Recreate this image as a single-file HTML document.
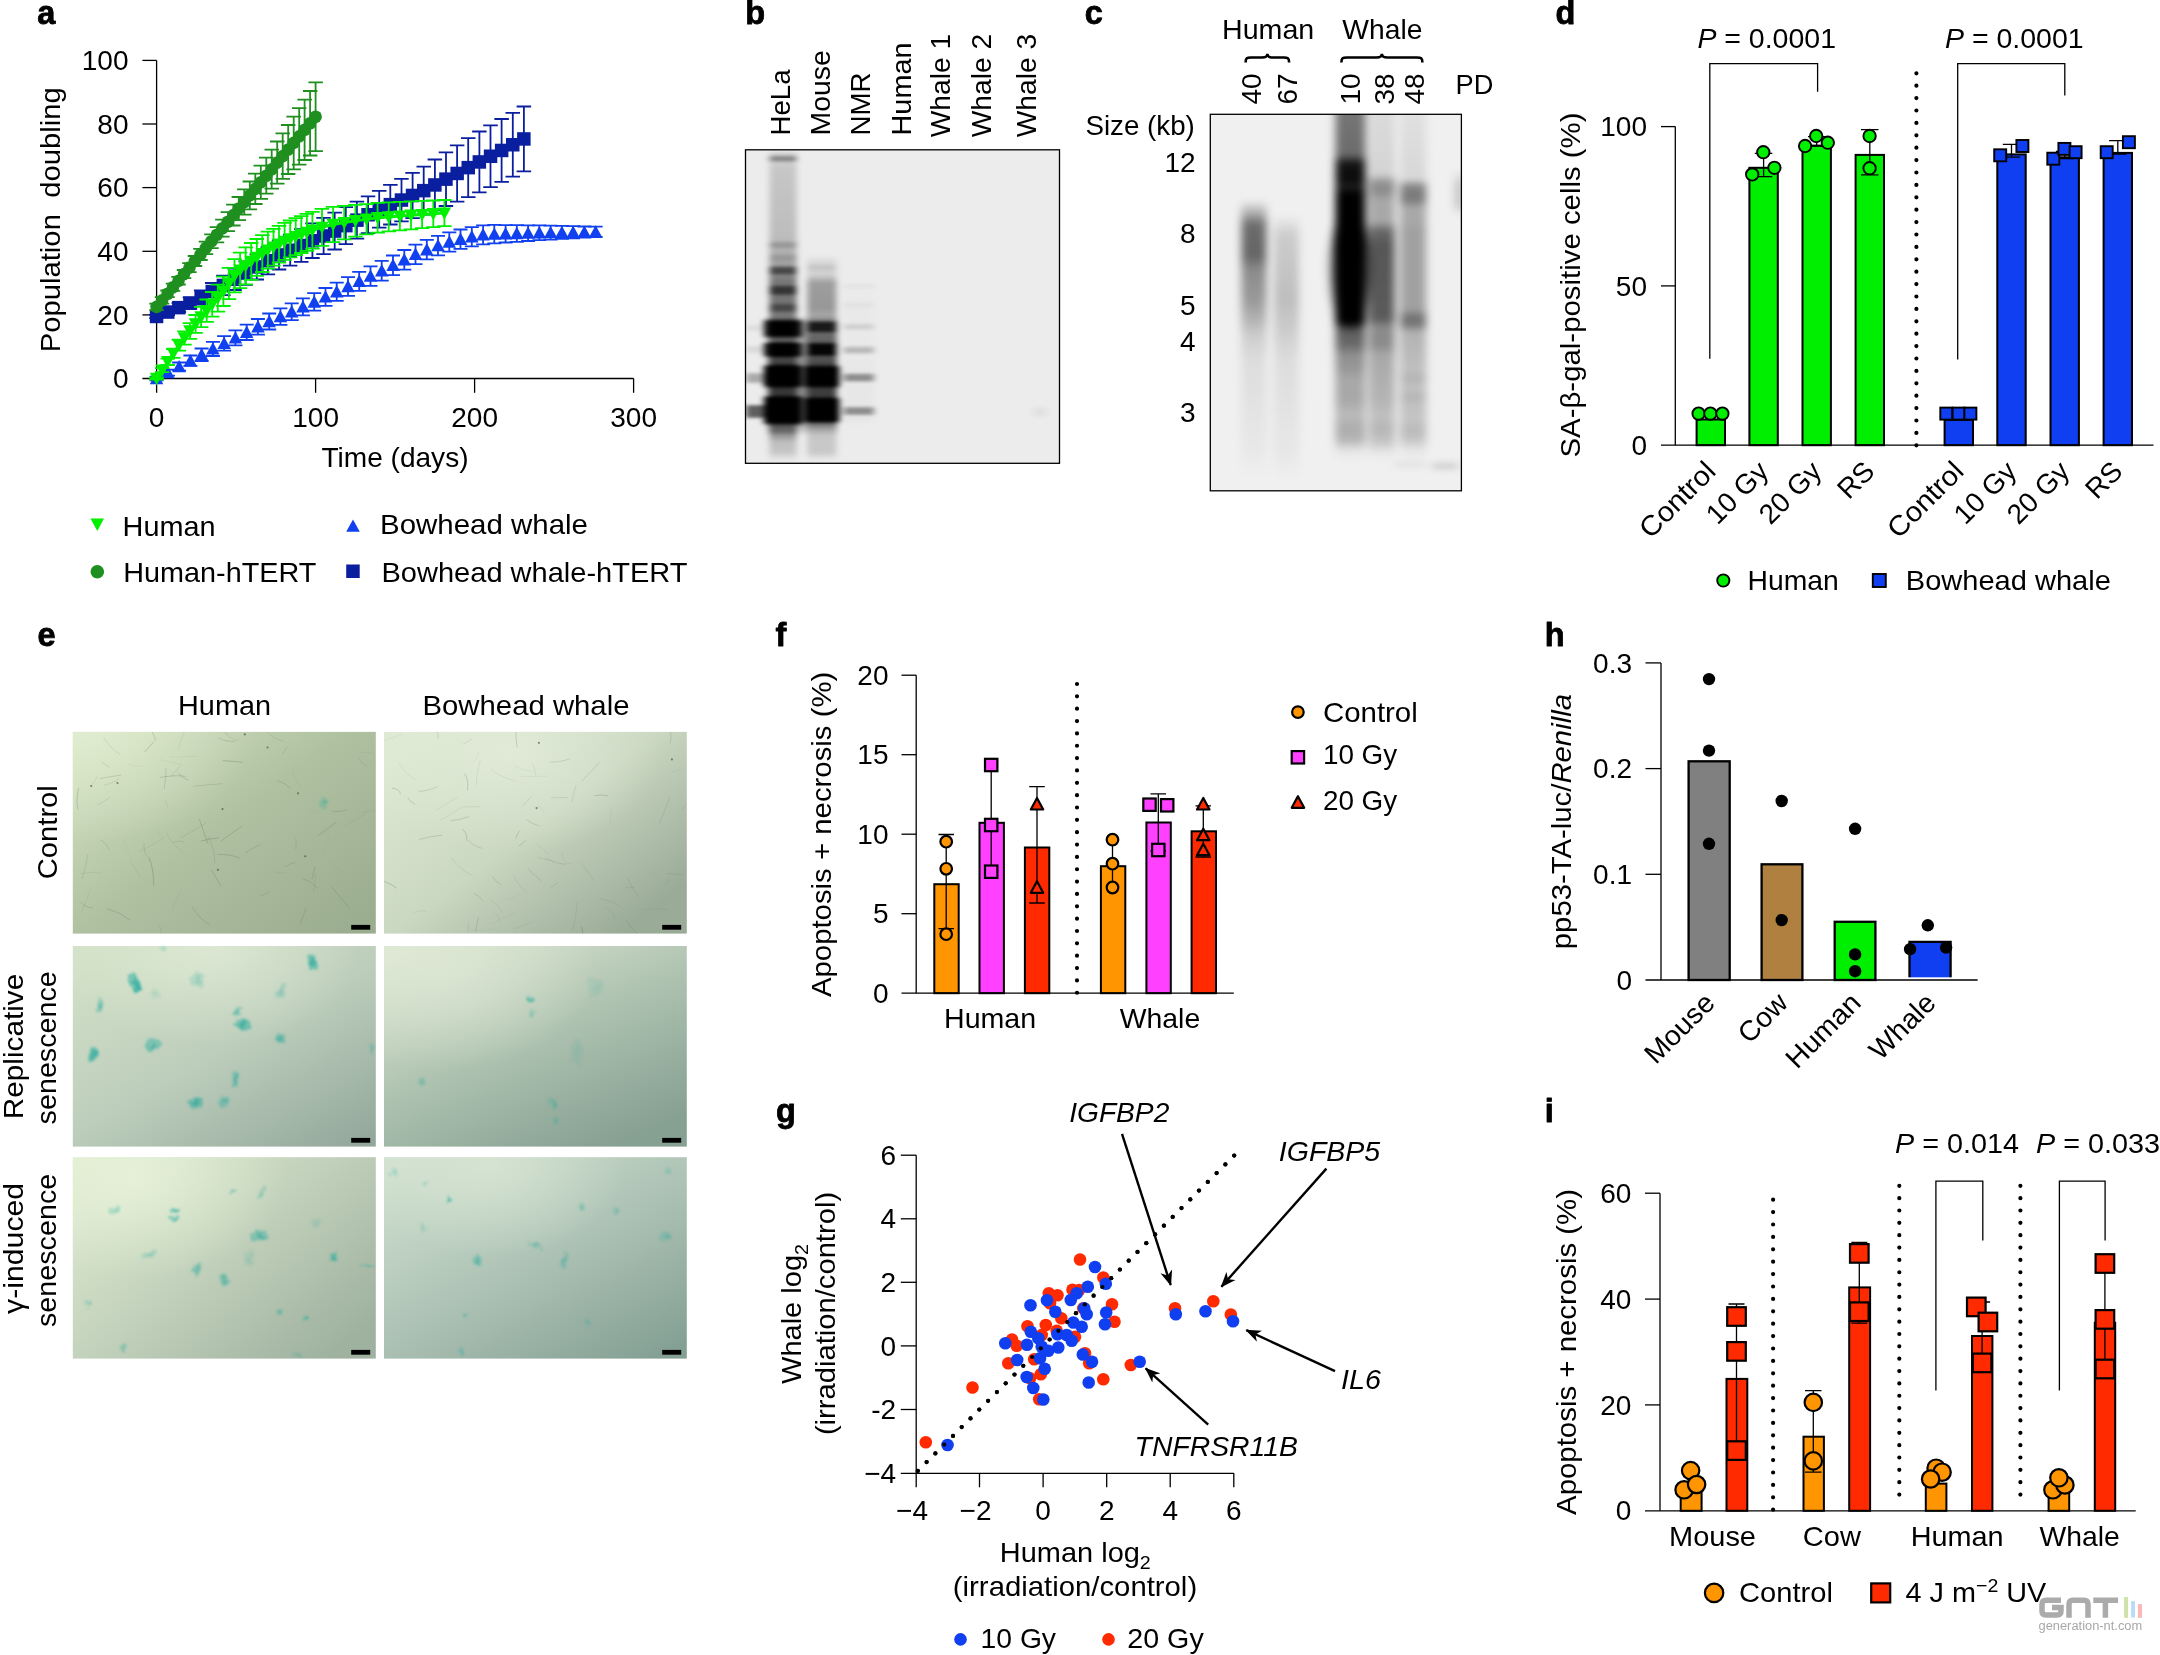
<!DOCTYPE html>
<html><head><meta charset="utf-8"><title>Figure</title>
<style>
html,body{margin:0;padding:0;background:#fff;}
body{width:2160px;height:1655px;overflow:hidden;}
svg{display:block;will-change:transform;font-family:"Liberation Sans",sans-serif;font-size:28px;}
</style></head><body>
<svg width="2160" height="1655" viewBox="0 0 2160 1655">
<defs>
<clipPath id="clipb"><rect x="745.5" y="149.8" width="314.0" height="313.5"/></clipPath>
<filter id="gb" x="-5%" y="-5%" width="110%" height="110%"><feGaussianBlur stdDeviation="3.4 1.8"/></filter>
<filter id="gc" x="-5%" y="-5%" width="110%" height="110%"><feGaussianBlur stdDeviation="4.2 3.6"/></filter>
<filter id="bl3" x="-30%" y="-100%" width="160%" height="300%"><feGaussianBlur stdDeviation="3.5 3"/></filter>
<filter id="bl6" x="-50%" y="-50%" width="200%" height="200%"><feGaussianBlur stdDeviation="6"/></filter>
<linearGradient id="ln1" gradientUnits="userSpaceOnUse" x1="0" y1="150.0" x2="0" y2="463.0"><stop offset="0.0000" stop-color="#000" stop-opacity="0.00"/><stop offset="0.0096" stop-color="#000" stop-opacity="0.10"/><stop offset="0.0150" stop-color="#000" stop-opacity="0.11"/><stop offset="0.0230" stop-color="#000" stop-opacity="0.42"/><stop offset="0.0326" stop-color="#000" stop-opacity="0.42"/><stop offset="0.0406" stop-color="#000" stop-opacity="0.13"/><stop offset="0.0639" stop-color="#000" stop-opacity="0.16"/><stop offset="0.2716" stop-color="#000" stop-opacity="0.20"/><stop offset="0.2907" stop-color="#000" stop-opacity="0.22"/><stop offset="0.2987" stop-color="#000" stop-opacity="0.36"/><stop offset="0.3083" stop-color="#000" stop-opacity="0.36"/><stop offset="0.3163" stop-color="#000" stop-opacity="0.25"/><stop offset="0.3319" stop-color="#000" stop-opacity="0.27"/><stop offset="0.3399" stop-color="#000" stop-opacity="0.36"/><stop offset="0.3495" stop-color="#000" stop-opacity="0.36"/><stop offset="0.3575" stop-color="#000" stop-opacity="0.30"/><stop offset="0.3578" stop-color="#000" stop-opacity="0.30"/><stop offset="0.3693" stop-color="#000" stop-opacity="0.34"/><stop offset="0.3773" stop-color="#000" stop-opacity="0.70"/><stop offset="0.3933" stop-color="#000" stop-opacity="0.70"/><stop offset="0.4013" stop-color="#000" stop-opacity="0.44"/><stop offset="0.4217" stop-color="#000" stop-opacity="0.50"/><stop offset="0.4307" stop-color="#000" stop-opacity="0.50"/><stop offset="0.4387" stop-color="#000" stop-opacity="0.78"/><stop offset="0.4578" stop-color="#000" stop-opacity="0.78"/><stop offset="0.4658" stop-color="#000" stop-opacity="0.51"/><stop offset="0.4885" stop-color="#000" stop-opacity="0.51"/><stop offset="0.4965" stop-color="#000" stop-opacity="0.70"/><stop offset="0.5125" stop-color="#000" stop-opacity="0.70"/><stop offset="0.5176" stop-color="#000" stop-opacity="0.52"/><stop offset="0.5204" stop-color="#000" stop-opacity="0.51"/><stop offset="0.5415" stop-color="#000" stop-opacity="0.45"/><stop offset="0.5431" stop-color="#000" stop-opacity="0.45"/><stop offset="0.5495" stop-color="#000" stop-opacity="1.00"/><stop offset="0.5911" stop-color="#000" stop-opacity="1.00"/><stop offset="0.5990" stop-color="#000" stop-opacity="0.40"/><stop offset="0.6006" stop-color="#000" stop-opacity="0.40"/><stop offset="0.6099" stop-color="#000" stop-opacity="0.41"/><stop offset="0.6134" stop-color="#000" stop-opacity="0.42"/><stop offset="0.6179" stop-color="#000" stop-opacity="1.00"/><stop offset="0.6562" stop-color="#000" stop-opacity="1.00"/><stop offset="0.6642" stop-color="#000" stop-opacity="0.50"/><stop offset="0.6645" stop-color="#000" stop-opacity="0.50"/><stop offset="0.6837" stop-color="#000" stop-opacity="0.55"/><stop offset="0.6917" stop-color="#000" stop-opacity="1.00"/><stop offset="0.7524" stop-color="#000" stop-opacity="1.00"/><stop offset="0.7604" stop-color="#000" stop-opacity="0.60"/><stop offset="0.7827" stop-color="#000" stop-opacity="0.60"/><stop offset="0.7843" stop-color="#000" stop-opacity="0.60"/><stop offset="0.7923" stop-color="#000" stop-opacity="1.00"/><stop offset="0.8690" stop-color="#000" stop-opacity="1.00"/><stop offset="0.8770" stop-color="#000" stop-opacity="0.50"/><stop offset="0.8786" stop-color="#000" stop-opacity="0.50"/><stop offset="0.8802" stop-color="#000" stop-opacity="0.49"/><stop offset="0.8882" stop-color="#000" stop-opacity="0.50"/><stop offset="0.9010" stop-color="#000" stop-opacity="0.50"/><stop offset="0.9089" stop-color="#000" stop-opacity="0.37"/><stop offset="0.9137" stop-color="#000" stop-opacity="0.35"/><stop offset="0.9329" stop-color="#000" stop-opacity="0.20"/><stop offset="0.9649" stop-color="#000" stop-opacity="0.16"/><stop offset="0.9840" stop-color="#000" stop-opacity="0.05"/><stop offset="0.9968" stop-color="#000" stop-opacity="0.00"/></linearGradient>
<linearGradient id="ln2" gradientUnits="userSpaceOnUse" x1="0" y1="316.0" x2="0" y2="436.0"><stop offset="0.0000" stop-color="#000" stop-opacity="0.00"/><stop offset="0.0667" stop-color="#000" stop-opacity="0.30"/><stop offset="0.2417" stop-color="#000" stop-opacity="0.34"/><stop offset="0.3667" stop-color="#000" stop-opacity="0.40"/><stop offset="0.8667" stop-color="#000" stop-opacity="0.45"/><stop offset="0.9333" stop-color="#000" stop-opacity="0.20"/><stop offset="1.0000" stop-color="#000" stop-opacity="0.00"/></linearGradient>
<linearGradient id="ln3" gradientUnits="userSpaceOnUse" x1="0" y1="316.0" x2="0" y2="428.0"><stop offset="0.0179" stop-color="#000" stop-opacity="0.00"/><stop offset="0.0536" stop-color="#000" stop-opacity="0.90"/><stop offset="0.1696" stop-color="#000" stop-opacity="0.90"/><stop offset="0.2054" stop-color="#000" stop-opacity="0.00"/><stop offset="0.2321" stop-color="#000" stop-opacity="0.00"/><stop offset="0.2500" stop-color="#000" stop-opacity="0.90"/><stop offset="0.3482" stop-color="#000" stop-opacity="0.90"/><stop offset="0.3750" stop-color="#000" stop-opacity="0.00"/><stop offset="0.4286" stop-color="#000" stop-opacity="0.00"/><stop offset="0.4554" stop-color="#000" stop-opacity="1.00"/><stop offset="0.6161" stop-color="#000" stop-opacity="1.00"/><stop offset="0.6518" stop-color="#000" stop-opacity="0.00"/><stop offset="0.7054" stop-color="#000" stop-opacity="0.00"/><stop offset="0.7321" stop-color="#000" stop-opacity="1.00"/><stop offset="0.9464" stop-color="#000" stop-opacity="1.00"/><stop offset="0.9821" stop-color="#000" stop-opacity="0.00"/></linearGradient>
<linearGradient id="ln4" gradientUnits="userSpaceOnUse" x1="0" y1="150.0" x2="0" y2="463.0"><stop offset="0.3355" stop-color="#000" stop-opacity="0.00"/><stop offset="0.3578" stop-color="#000" stop-opacity="0.08"/><stop offset="0.3633" stop-color="#000" stop-opacity="0.09"/><stop offset="0.3712" stop-color="#000" stop-opacity="0.16"/><stop offset="0.3808" stop-color="#000" stop-opacity="0.16"/><stop offset="0.3888" stop-color="#000" stop-opacity="0.11"/><stop offset="0.3994" stop-color="#000" stop-opacity="0.12"/><stop offset="0.4249" stop-color="#000" stop-opacity="0.33"/><stop offset="0.5048" stop-color="#000" stop-opacity="0.36"/><stop offset="0.5240" stop-color="#000" stop-opacity="0.30"/><stop offset="0.5441" stop-color="#000" stop-opacity="0.32"/><stop offset="0.5521" stop-color="#000" stop-opacity="0.85"/><stop offset="0.5776" stop-color="#000" stop-opacity="0.85"/><stop offset="0.5856" stop-color="#000" stop-opacity="0.35"/><stop offset="0.5942" stop-color="#000" stop-opacity="0.36"/><stop offset="0.6070" stop-color="#000" stop-opacity="0.36"/><stop offset="0.6131" stop-color="#000" stop-opacity="0.37"/><stop offset="0.6211" stop-color="#000" stop-opacity="0.97"/><stop offset="0.6530" stop-color="#000" stop-opacity="0.97"/><stop offset="0.6610" stop-color="#000" stop-opacity="0.42"/><stop offset="0.6645" stop-color="#000" stop-opacity="0.42"/><stop offset="0.6837" stop-color="#000" stop-opacity="0.48"/><stop offset="0.6888" stop-color="#000" stop-opacity="0.48"/><stop offset="0.6968" stop-color="#000" stop-opacity="1.00"/><stop offset="0.7511" stop-color="#000" stop-opacity="1.00"/><stop offset="0.7591" stop-color="#000" stop-opacity="0.55"/><stop offset="0.7604" stop-color="#000" stop-opacity="0.55"/><stop offset="0.7827" stop-color="#000" stop-opacity="0.55"/><stop offset="0.7891" stop-color="#000" stop-opacity="0.53"/><stop offset="0.7971" stop-color="#000" stop-opacity="1.00"/><stop offset="0.8642" stop-color="#000" stop-opacity="1.00"/><stop offset="0.8722" stop-color="#000" stop-opacity="0.31"/><stop offset="0.8754" stop-color="#000" stop-opacity="0.30"/><stop offset="0.8946" stop-color="#000" stop-opacity="0.16"/><stop offset="0.9649" stop-color="#000" stop-opacity="0.15"/><stop offset="0.9840" stop-color="#000" stop-opacity="0.04"/><stop offset="0.9968" stop-color="#000" stop-opacity="0.00"/></linearGradient>
<linearGradient id="ln5" gradientUnits="userSpaceOnUse" x1="0" y1="362.0" x2="0" y2="426.0"><stop offset="0.0312" stop-color="#000" stop-opacity="0.00"/><stop offset="0.0938" stop-color="#000" stop-opacity="1.00"/><stop offset="0.3594" stop-color="#000" stop-opacity="1.00"/><stop offset="0.4219" stop-color="#000" stop-opacity="0.00"/><stop offset="0.5312" stop-color="#000" stop-opacity="0.00"/><stop offset="0.5938" stop-color="#000" stop-opacity="1.00"/><stop offset="0.9062" stop-color="#000" stop-opacity="1.00"/><stop offset="0.9688" stop-color="#000" stop-opacity="0.00"/></linearGradient>
<linearGradient id="ln6" gradientUnits="userSpaceOnUse" x1="0" y1="150.0" x2="0" y2="463.0"><stop offset="0.4153" stop-color="#000" stop-opacity="0.00"/><stop offset="0.4243" stop-color="#000" stop-opacity="0.00"/><stop offset="0.4323" stop-color="#000" stop-opacity="0.04"/><stop offset="0.4387" stop-color="#000" stop-opacity="0.04"/><stop offset="0.4466" stop-color="#000" stop-opacity="0.00"/><stop offset="0.4792" stop-color="#000" stop-opacity="0.01"/><stop offset="0.4840" stop-color="#000" stop-opacity="0.01"/><stop offset="0.4920" stop-color="#000" stop-opacity="0.05"/><stop offset="0.4984" stop-color="#000" stop-opacity="0.05"/><stop offset="0.5064" stop-color="#000" stop-opacity="0.01"/><stop offset="0.5521" stop-color="#000" stop-opacity="0.01"/><stop offset="0.5601" stop-color="#000" stop-opacity="0.12"/><stop offset="0.5696" stop-color="#000" stop-opacity="0.12"/><stop offset="0.5776" stop-color="#000" stop-opacity="0.01"/><stop offset="0.6249" stop-color="#000" stop-opacity="0.01"/><stop offset="0.6329" stop-color="#000" stop-opacity="0.22"/><stop offset="0.6457" stop-color="#000" stop-opacity="0.22"/><stop offset="0.6537" stop-color="#000" stop-opacity="0.01"/><stop offset="0.7112" stop-color="#000" stop-opacity="0.02"/><stop offset="0.7192" stop-color="#000" stop-opacity="0.40"/><stop offset="0.7351" stop-color="#000" stop-opacity="0.40"/><stop offset="0.7431" stop-color="#000" stop-opacity="0.02"/><stop offset="0.8179" stop-color="#000" stop-opacity="0.02"/><stop offset="0.8259" stop-color="#000" stop-opacity="0.40"/><stop offset="0.8419" stop-color="#000" stop-opacity="0.40"/><stop offset="0.8498" stop-color="#000" stop-opacity="0.02"/><stop offset="0.8626" stop-color="#000" stop-opacity="0.02"/><stop offset="0.8786" stop-color="#000" stop-opacity="0.00"/></linearGradient>
<linearGradient id="ln7" gradientUnits="userSpaceOnUse" x1="0" y1="150.0" x2="0" y2="463.0"><stop offset="0.5431" stop-color="#000" stop-opacity="0.00"/><stop offset="0.5559" stop-color="#000" stop-opacity="0.00"/><stop offset="0.5639" stop-color="#000" stop-opacity="0.06"/><stop offset="0.5735" stop-color="#000" stop-opacity="0.06"/><stop offset="0.5815" stop-color="#000" stop-opacity="0.00"/><stop offset="0.6227" stop-color="#000" stop-opacity="0.00"/><stop offset="0.6307" stop-color="#000" stop-opacity="0.08"/><stop offset="0.6435" stop-color="#000" stop-opacity="0.08"/><stop offset="0.6514" stop-color="#000" stop-opacity="0.00"/><stop offset="0.7093" stop-color="#000" stop-opacity="0.00"/><stop offset="0.7173" stop-color="#000" stop-opacity="0.28"/><stop offset="0.7396" stop-color="#000" stop-opacity="0.28"/><stop offset="0.7476" stop-color="#000" stop-opacity="0.00"/><stop offset="0.8115" stop-color="#000" stop-opacity="0.00"/><stop offset="0.8195" stop-color="#000" stop-opacity="0.60"/><stop offset="0.8514" stop-color="#000" stop-opacity="0.60"/><stop offset="0.8594" stop-color="#000" stop-opacity="0.00"/><stop offset="0.8626" stop-color="#000" stop-opacity="0.00"/></linearGradient>
<linearGradient id="ln8" gradientUnits="userSpaceOnUse" x1="0" y1="400.0" x2="0" y2="420.0"><stop offset="0.2500" stop-color="#000" stop-opacity="0.00"/><stop offset="0.5000" stop-color="#000" stop-opacity="0.05"/><stop offset="0.7000" stop-color="#000" stop-opacity="0.05"/><stop offset="0.9500" stop-color="#000" stop-opacity="0.00"/></linearGradient>
<clipPath id="clipc"><rect x="1210.3" y="114.3" width="251.1" height="376.5"/></clipPath>
<linearGradient id="ln9" gradientUnits="userSpaceOnUse" x1="0" y1="100.0" x2="0" y2="495.0"><stop offset="0.2532" stop-color="#000" stop-opacity="0.00"/><stop offset="0.2835" stop-color="#000" stop-opacity="0.25"/><stop offset="0.3165" stop-color="#000" stop-opacity="0.55"/><stop offset="0.3924" stop-color="#000" stop-opacity="0.58"/><stop offset="0.4304" stop-color="#000" stop-opacity="0.42"/><stop offset="0.5063" stop-color="#000" stop-opacity="0.36"/><stop offset="0.5570" stop-color="#000" stop-opacity="0.25"/><stop offset="0.5949" stop-color="#000" stop-opacity="0.15"/><stop offset="0.6582" stop-color="#000" stop-opacity="0.08"/><stop offset="0.8608" stop-color="#000" stop-opacity="0.04"/><stop offset="0.9620" stop-color="#000" stop-opacity="0.00"/></linearGradient>
<linearGradient id="ln10" gradientUnits="userSpaceOnUse" x1="0" y1="100.0" x2="0" y2="495.0"><stop offset="0.2911" stop-color="#000" stop-opacity="0.00"/><stop offset="0.3418" stop-color="#000" stop-opacity="0.15"/><stop offset="0.5063" stop-color="#000" stop-opacity="0.21"/><stop offset="0.5823" stop-color="#000" stop-opacity="0.15"/><stop offset="0.6582" stop-color="#000" stop-opacity="0.08"/><stop offset="0.8861" stop-color="#000" stop-opacity="0.04"/><stop offset="0.9620" stop-color="#000" stop-opacity="0.00"/></linearGradient>
<linearGradient id="ln11" gradientUnits="userSpaceOnUse" x1="0" y1="100.0" x2="0" y2="495.0"><stop offset="0.0000" stop-color="#000" stop-opacity="0.50"/><stop offset="0.1392" stop-color="#000" stop-opacity="0.55"/><stop offset="0.1595" stop-color="#000" stop-opacity="0.92"/><stop offset="0.2025" stop-color="#000" stop-opacity="0.96"/><stop offset="0.2177" stop-color="#000" stop-opacity="0.86"/><stop offset="0.2380" stop-color="#000" stop-opacity="1.00"/><stop offset="0.5620" stop-color="#000" stop-opacity="1.00"/><stop offset="0.5772" stop-color="#000" stop-opacity="0.62"/><stop offset="0.6203" stop-color="#000" stop-opacity="0.56"/><stop offset="0.6456" stop-color="#000" stop-opacity="0.40"/><stop offset="0.6734" stop-color="#000" stop-opacity="0.38"/><stop offset="0.7089" stop-color="#000" stop-opacity="0.30"/><stop offset="0.7595" stop-color="#000" stop-opacity="0.30"/><stop offset="0.7975" stop-color="#000" stop-opacity="0.22"/><stop offset="0.8304" stop-color="#000" stop-opacity="0.28"/><stop offset="0.8608" stop-color="#000" stop-opacity="0.25"/><stop offset="0.8861" stop-color="#000" stop-opacity="0.05"/><stop offset="0.9114" stop-color="#000" stop-opacity="0.00"/></linearGradient>
<linearGradient id="ln12" gradientUnits="userSpaceOnUse" x1="0" y1="100.0" x2="0" y2="495.0"><stop offset="0.0000" stop-color="#000" stop-opacity="0.08"/><stop offset="0.1899" stop-color="#000" stop-opacity="0.12"/><stop offset="0.2076" stop-color="#000" stop-opacity="0.40"/><stop offset="0.2329" stop-color="#000" stop-opacity="0.42"/><stop offset="0.2532" stop-color="#000" stop-opacity="0.30"/><stop offset="0.3089" stop-color="#000" stop-opacity="0.30"/><stop offset="0.3291" stop-color="#000" stop-opacity="0.56"/><stop offset="0.3671" stop-color="#000" stop-opacity="0.64"/><stop offset="0.5570" stop-color="#000" stop-opacity="0.62"/><stop offset="0.5722" stop-color="#000" stop-opacity="0.42"/><stop offset="0.6203" stop-color="#000" stop-opacity="0.42"/><stop offset="0.6456" stop-color="#000" stop-opacity="0.30"/><stop offset="0.7089" stop-color="#000" stop-opacity="0.27"/><stop offset="0.7595" stop-color="#000" stop-opacity="0.25"/><stop offset="0.7975" stop-color="#000" stop-opacity="0.20"/><stop offset="0.8354" stop-color="#000" stop-opacity="0.24"/><stop offset="0.8658" stop-color="#000" stop-opacity="0.18"/><stop offset="0.8911" stop-color="#000" stop-opacity="0.04"/><stop offset="0.9114" stop-color="#000" stop-opacity="0.00"/></linearGradient>
<linearGradient id="ln13" gradientUnits="userSpaceOnUse" x1="0" y1="100.0" x2="0" y2="495.0"><stop offset="0.0000" stop-color="#000" stop-opacity="0.06"/><stop offset="0.2025" stop-color="#000" stop-opacity="0.10"/><stop offset="0.2177" stop-color="#000" stop-opacity="0.46"/><stop offset="0.2532" stop-color="#000" stop-opacity="0.50"/><stop offset="0.2709" stop-color="#000" stop-opacity="0.30"/><stop offset="0.3089" stop-color="#000" stop-opacity="0.30"/><stop offset="0.3291" stop-color="#000" stop-opacity="0.33"/><stop offset="0.5316" stop-color="#000" stop-opacity="0.33"/><stop offset="0.5468" stop-color="#000" stop-opacity="0.52"/><stop offset="0.5696" stop-color="#000" stop-opacity="0.52"/><stop offset="0.5848" stop-color="#000" stop-opacity="0.26"/><stop offset="0.6886" stop-color="#000" stop-opacity="0.20"/><stop offset="0.7038" stop-color="#000" stop-opacity="0.27"/><stop offset="0.7190" stop-color="#000" stop-opacity="0.20"/><stop offset="0.7392" stop-color="#000" stop-opacity="0.20"/><stop offset="0.7519" stop-color="#000" stop-opacity="0.26"/><stop offset="0.7671" stop-color="#000" stop-opacity="0.20"/><stop offset="0.8101" stop-color="#000" stop-opacity="0.18"/><stop offset="0.8354" stop-color="#000" stop-opacity="0.23"/><stop offset="0.8608" stop-color="#000" stop-opacity="0.18"/><stop offset="0.8861" stop-color="#000" stop-opacity="0.04"/><stop offset="0.9114" stop-color="#000" stop-opacity="0.00"/></linearGradient>
<linearGradient id="ln14" gradientUnits="userSpaceOnUse" x1="0" y1="100.0" x2="0" y2="495.0"><stop offset="0.1772" stop-color="#000" stop-opacity="0.00"/><stop offset="0.2152" stop-color="#000" stop-opacity="0.20"/><stop offset="0.2658" stop-color="#000" stop-opacity="0.20"/><stop offset="0.2911" stop-color="#000" stop-opacity="0.00"/></linearGradient>
<filter id="tealf" filterUnits="userSpaceOnUse" x="60" y="720" width="640" height="650"><feTurbulence type="fractalNoise" baseFrequency="0.11" numOctaves="2" seed="3" result="n"/><feDisplacementMap in="SourceGraphic" in2="n" scale="11" xChannelSelector="R" yChannelSelector="G"/><feGaussianBlur stdDeviation="1.1"/></filter>
<filter id="tb2" x="-60%" y="-60%" width="220%" height="220%"><feGaussianBlur stdDeviation="0.7"/></filter>
<linearGradient id="eg00" x1="0.0" y1="0.0" x2="1.0" y2="0.9"><stop offset="0" stop-color="#d8e6c8"/><stop offset="0.5" stop-color="#afc1a1"/><stop offset="1" stop-color="#9bad8f"/></linearGradient>
<radialGradient id="eg00h" cx="0.05" cy="0.0" r="0.55"><stop offset="0" stop-color="#e4efd2" stop-opacity="0.7"/><stop offset="1" stop-color="#e4efd2" stop-opacity="0"/></radialGradient>
<clipPath id="eg00c"><rect x="72.8" y="731.9" width="303.0" height="201.7"/></clipPath>
<linearGradient id="eg01" x1="0.15" y1="0.0" x2="1.0" y2="0.75"><stop offset="0" stop-color="#dde9d3"/><stop offset="0.5" stop-color="#cad7c1"/><stop offset="1" stop-color="#9aab98"/></linearGradient>
<radialGradient id="eg01h" cx="0.42" cy="0.1" r="0.5"><stop offset="0" stop-color="#e3edda" stop-opacity="0.8"/><stop offset="1" stop-color="#e3edda" stop-opacity="0"/></radialGradient>
<clipPath id="eg01c"><rect x="384.0" y="731.9" width="302.8" height="201.7"/></clipPath>
<linearGradient id="eg10" x1="0.1" y1="0.0" x2="0.95" y2="1.0"><stop offset="0" stop-color="#d3e1c8"/><stop offset="0.5" stop-color="#bccdbb"/><stop offset="1" stop-color="#93a89b"/></linearGradient>
<radialGradient id="eg10h" cx="0.45" cy="0.0" r="0.5"><stop offset="0" stop-color="#e0ebd6" stop-opacity="0.8"/><stop offset="1" stop-color="#e0ebd6" stop-opacity="0"/></radialGradient>
<clipPath id="eg10c"><rect x="72.8" y="946.0" width="303.0" height="200.6"/></clipPath>
<linearGradient id="eg11" x1="0.1" y1="0.0" x2="0.75" y2="1.0"><stop offset="0" stop-color="#dde8d3"/><stop offset="0.5" stop-color="#aec2b0"/><stop offset="1" stop-color="#86a092"/></linearGradient>
<radialGradient id="eg11h" cx="0.2" cy="0.12" r="0.5"><stop offset="0" stop-color="#dfe9d6" stop-opacity="0.7"/><stop offset="1" stop-color="#dfe9d6" stop-opacity="0"/></radialGradient>
<clipPath id="eg11c"><rect x="384.0" y="946.0" width="302.8" height="200.6"/></clipPath>
<linearGradient id="eg20" x1="0.0" y1="0.0" x2="1.0" y2="0.8"><stop offset="0" stop-color="#e2eed3"/><stop offset="0.5" stop-color="#c3d2bc"/><stop offset="1" stop-color="#9fb2a0"/></linearGradient>
<radialGradient id="eg20h" cx="0.2" cy="0.1" r="0.5"><stop offset="0" stop-color="#e8f3da" stop-opacity="0.8"/><stop offset="1" stop-color="#e8f3da" stop-opacity="0"/></radialGradient>
<clipPath id="eg20c"><rect x="72.8" y="1157.2" width="303.0" height="201.4"/></clipPath>
<linearGradient id="eg21" x1="0.1" y1="0.0" x2="0.9" y2="1.0"><stop offset="0" stop-color="#d0e0cf"/><stop offset="0.5" stop-color="#aec3b5"/><stop offset="1" stop-color="#84a094"/></linearGradient>
<radialGradient id="eg21h" cx="0.35" cy="0.05" r="0.45"><stop offset="0" stop-color="#dce8d6" stop-opacity="0.7"/><stop offset="1" stop-color="#dce8d6" stop-opacity="0"/></radialGradient>
<clipPath id="eg21c"><rect x="384.0" y="1157.2" width="302.8" height="201.4"/></clipPath>
<marker id="arr" viewBox="0 0 14 12" refX="13" refY="6" markerWidth="15.5" markerHeight="13.3" markerUnits="userSpaceOnUse" orient="auto"><path d="M0 0.5 L14 6 L0 11.5 L4 6 Z" fill="#000"/></marker>
</defs>
<rect width="2160" height="1655" fill="#fff"/>
<g id="pa">
<text x="37.3" y="24.2" stroke="#000" stroke-width="0.8" stroke-linejoin="round" font-size="32.5" font-weight="bold">a</text>
<path d="M156.6 60.4 V392.8" stroke="#000" stroke-width="1.3" fill="none" />
<path d="M142.4 378.5 H633.6" stroke="#000" stroke-width="1.3" fill="none" />
<text x="128.5" y="388.2" text-anchor="end">0</text>
<line x1="142.4" y1="314.9" x2="156.6" y2="314.9" stroke="#000" stroke-width="1.3" />
<text x="128.5" y="324.6" text-anchor="end">20</text>
<line x1="142.4" y1="251.3" x2="156.6" y2="251.3" stroke="#000" stroke-width="1.3" />
<text x="128.5" y="261.0" text-anchor="end">40</text>
<line x1="142.4" y1="187.6" x2="156.6" y2="187.6" stroke="#000" stroke-width="1.3" />
<text x="128.5" y="197.3" text-anchor="end">60</text>
<line x1="142.4" y1="124.0" x2="156.6" y2="124.0" stroke="#000" stroke-width="1.3" />
<text x="128.5" y="133.7" text-anchor="end">80</text>
<line x1="142.4" y1="60.4" x2="156.6" y2="60.4" stroke="#000" stroke-width="1.3" />
<text x="128.5" y="70.1" text-anchor="end">100</text>
<text x="156.6" y="426.6" text-anchor="middle">0</text>
<line x1="315.6" y1="378.5" x2="315.6" y2="392.8" stroke="#000" stroke-width="1.3" />
<text x="315.6" y="426.6" text-anchor="middle">100</text>
<line x1="474.6" y1="378.5" x2="474.6" y2="392.8" stroke="#000" stroke-width="1.3" />
<text x="474.6" y="426.6" text-anchor="middle">200</text>
<line x1="633.6" y1="378.5" x2="633.6" y2="392.8" stroke="#000" stroke-width="1.3" />
<text x="633.6" y="426.6" text-anchor="middle">300</text>
<text x="395.0" y="467.3" text-anchor="middle" textLength="147.0" lengthAdjust="spacingAndGlyphs">Time (days)</text>
<text  text-anchor="middle" textLength="265.0" lengthAdjust="spacingAndGlyphs" transform="translate(59.9 219.8) rotate(-90)">Population  doubling</text>
<path d="M156.6 376.6 V380.4 M149.6 376.6 H163.6 M149.6 380.4 H163.6" stroke="#1040f0" stroke-width="1.8" fill="none" />
<path d="M167.9 369.6 V375.6 M160.9 369.6 H174.9 M160.9 375.6 H174.9" stroke="#1040f0" stroke-width="1.8" fill="none" />
<path d="M179.1 362.5 V370.7 M172.1 362.5 H186.1 M172.1 370.7 H186.1" stroke="#1040f0" stroke-width="1.8" fill="none" />
<path d="M190.4 355.5 V365.9 M183.4 355.5 H197.4 M183.4 365.9 H197.4" stroke="#1040f0" stroke-width="1.8" fill="none" />
<path d="M201.6 348.5 V361.0 M194.6 348.5 H208.6 M194.6 361.0 H208.6" stroke="#1040f0" stroke-width="1.8" fill="none" />
<path d="M212.9 341.9 V356.0 M205.9 341.9 H219.9 M205.9 356.0 H219.9" stroke="#1040f0" stroke-width="1.8" fill="none" />
<path d="M224.1 336.2 V350.7 M217.1 336.2 H231.1 M217.1 350.7 H231.1" stroke="#1040f0" stroke-width="1.8" fill="none" />
<path d="M235.4 330.4 V345.3 M228.4 330.4 H242.4 M228.4 345.3 H242.4" stroke="#1040f0" stroke-width="1.8" fill="none" />
<path d="M246.7 324.7 V340.0 M239.7 324.7 H253.7 M239.7 340.0 H253.7" stroke="#1040f0" stroke-width="1.8" fill="none" />
<path d="M257.9 319.0 V334.6 M250.9 319.0 H264.9 M250.9 334.6 H264.9" stroke="#1040f0" stroke-width="1.8" fill="none" />
<path d="M269.2 313.5 V329.5 M262.2 313.5 H276.2 M262.2 329.5 H276.2" stroke="#1040f0" stroke-width="1.8" fill="none" />
<path d="M280.4 308.4 V324.8 M273.4 308.4 H287.4 M273.4 324.8 H287.4" stroke="#1040f0" stroke-width="1.8" fill="none" />
<path d="M291.7 303.4 V320.1 M284.7 303.4 H298.7 M284.7 320.1 H298.7" stroke="#1040f0" stroke-width="1.8" fill="none" />
<path d="M302.9 298.3 V315.4 M295.9 298.3 H309.9 M295.9 315.4 H309.9" stroke="#1040f0" stroke-width="1.8" fill="none" />
<path d="M314.2 293.2 V310.7 M307.2 293.2 H321.2 M307.2 310.7 H321.2" stroke="#1040f0" stroke-width="1.8" fill="none" />
<path d="M325.5 288.0 V305.9 M318.5 288.0 H332.5 M318.5 305.9 H332.5" stroke="#1040f0" stroke-width="1.8" fill="none" />
<path d="M336.7 282.6 V300.9 M329.7 282.6 H343.7 M329.7 300.9 H343.7" stroke="#1040f0" stroke-width="1.8" fill="none" />
<path d="M348.0 277.2 V295.8 M341.0 277.2 H355.0 M341.0 295.8 H355.0" stroke="#1040f0" stroke-width="1.8" fill="none" />
<path d="M359.2 271.8 V290.8 M352.2 271.8 H366.2 M352.2 290.8 H366.2" stroke="#1040f0" stroke-width="1.8" fill="none" />
<path d="M370.5 266.4 V285.8 M363.5 266.4 H377.5 M363.5 285.8 H377.5" stroke="#1040f0" stroke-width="1.8" fill="none" />
<path d="M381.7 260.9 V280.6 M374.7 260.9 H388.7 M374.7 280.6 H388.7" stroke="#1040f0" stroke-width="1.8" fill="none" />
<path d="M393.0 255.5 V275.1 M386.0 255.5 H400.0 M386.0 275.1 H400.0" stroke="#1040f0" stroke-width="1.8" fill="none" />
<path d="M404.3 250.0 V269.6 M397.3 250.0 H411.3 M397.3 269.6 H411.3" stroke="#1040f0" stroke-width="1.8" fill="none" />
<path d="M415.5 244.6 V264.1 M408.5 244.6 H422.5 M408.5 264.1 H422.5" stroke="#1040f0" stroke-width="1.8" fill="none" />
<path d="M426.8 239.9 V259.4 M419.8 239.9 H433.8 M419.8 259.4 H433.8" stroke="#1040f0" stroke-width="1.8" fill="none" />
<path d="M438.0 235.9 V255.3 M431.0 235.9 H445.0 M431.0 255.3 H445.0" stroke="#1040f0" stroke-width="1.8" fill="none" />
<path d="M449.3 232.4 V251.7 M442.3 232.4 H456.3 M442.3 251.7 H456.3" stroke="#1040f0" stroke-width="1.8" fill="none" />
<path d="M460.5 229.5 V248.8 M453.5 229.5 H467.5 M453.5 248.8 H467.5" stroke="#1040f0" stroke-width="1.8" fill="none" />
<path d="M471.8 227.1 V246.3 M464.8 227.1 H478.8 M464.8 246.3 H478.8" stroke="#1040f0" stroke-width="1.8" fill="none" />
<path d="M483.1 225.3 V244.4 M476.1 225.3 H490.1 M476.1 244.4 H490.1" stroke="#1040f0" stroke-width="1.8" fill="none" />
<path d="M494.3 224.9 V243.3 M487.3 224.9 H501.3 M487.3 243.3 H501.3" stroke="#1040f0" stroke-width="1.8" fill="none" />
<path d="M505.6 225.1 V242.5 M498.6 225.1 H512.6 M498.6 242.5 H512.6" stroke="#1040f0" stroke-width="1.8" fill="none" />
<path d="M516.8 225.2 V241.8 M509.8 225.2 H523.8 M509.8 241.8 H523.8" stroke="#1040f0" stroke-width="1.8" fill="none" />
<path d="M528.1 225.3 V241.0 M521.1 225.3 H535.1 M521.1 241.0 H535.1" stroke="#1040f0" stroke-width="1.8" fill="none" />
<path d="M539.3 225.4 V240.2 M532.3 225.4 H546.3 M532.3 240.2 H546.3" stroke="#1040f0" stroke-width="1.8" fill="none" />
<path d="M550.6 225.7 V239.6 M543.6 225.7 H557.6 M543.6 239.6 H557.6" stroke="#1040f0" stroke-width="1.8" fill="none" />
<path d="M561.9 225.9 V238.9 M554.9 225.9 H568.9 M554.9 238.9 H568.9" stroke="#1040f0" stroke-width="1.8" fill="none" />
<path d="M573.1 226.2 V238.3 M566.1 226.2 H580.1 M566.1 238.3 H580.1" stroke="#1040f0" stroke-width="1.8" fill="none" />
<path d="M584.4 226.5 V237.7 M577.4 226.5 H591.4 M577.4 237.7 H591.4" stroke="#1040f0" stroke-width="1.8" fill="none" />
<path d="M595.6 226.7 V237.0 M588.6 226.7 H602.6 M588.6 237.0 H602.6" stroke="#1040f0" stroke-width="1.8" fill="none" />
<path d="M149.8 384.2 L163.3 384.2 L156.6 371.8 Z" fill="#1040f0" stroke="none" stroke-width="0" stroke-linejoin="round"/>
<path d="M161.1 378.3 L174.6 378.3 L167.9 365.9 Z" fill="#1040f0" stroke="none" stroke-width="0" stroke-linejoin="round"/>
<path d="M172.4 372.3 L185.9 372.3 L179.1 359.9 Z" fill="#1040f0" stroke="none" stroke-width="0" stroke-linejoin="round"/>
<path d="M183.6 366.4 L197.1 366.4 L190.4 354.0 Z" fill="#1040f0" stroke="none" stroke-width="0" stroke-linejoin="round"/>
<path d="M194.9 360.5 L208.4 360.5 L201.6 348.1 Z" fill="#1040f0" stroke="none" stroke-width="0" stroke-linejoin="round"/>
<path d="M206.1 354.6 L219.6 354.6 L212.9 342.2 Z" fill="#1040f0" stroke="none" stroke-width="0" stroke-linejoin="round"/>
<path d="M217.4 349.1 L230.9 349.1 L224.1 336.7 Z" fill="#1040f0" stroke="none" stroke-width="0" stroke-linejoin="round"/>
<path d="M228.7 343.6 L242.2 343.6 L235.4 331.2 Z" fill="#1040f0" stroke="none" stroke-width="0" stroke-linejoin="round"/>
<path d="M239.9 338.0 L253.4 338.0 L246.7 325.6 Z" fill="#1040f0" stroke="none" stroke-width="0" stroke-linejoin="round"/>
<path d="M251.2 332.5 L264.7 332.5 L257.9 320.1 Z" fill="#1040f0" stroke="none" stroke-width="0" stroke-linejoin="round"/>
<path d="M262.4 327.2 L275.9 327.2 L269.2 314.8 Z" fill="#1040f0" stroke="none" stroke-width="0" stroke-linejoin="round"/>
<path d="M273.7 322.3 L287.2 322.3 L280.4 309.9 Z" fill="#1040f0" stroke="none" stroke-width="0" stroke-linejoin="round"/>
<path d="M284.9 317.5 L298.4 317.5 L291.7 305.1 Z" fill="#1040f0" stroke="none" stroke-width="0" stroke-linejoin="round"/>
<path d="M296.2 312.6 L309.7 312.6 L302.9 300.2 Z" fill="#1040f0" stroke="none" stroke-width="0" stroke-linejoin="round"/>
<path d="M307.5 307.7 L321.0 307.7 L314.2 295.3 Z" fill="#1040f0" stroke="none" stroke-width="0" stroke-linejoin="round"/>
<path d="M318.7 302.6 L332.2 302.6 L325.5 290.2 Z" fill="#1040f0" stroke="none" stroke-width="0" stroke-linejoin="round"/>
<path d="M330.0 297.4 L343.5 297.4 L336.7 285.0 Z" fill="#1040f0" stroke="none" stroke-width="0" stroke-linejoin="round"/>
<path d="M341.2 292.2 L354.7 292.2 L348.0 279.8 Z" fill="#1040f0" stroke="none" stroke-width="0" stroke-linejoin="round"/>
<path d="M352.5 287.0 L366.0 287.0 L359.2 274.6 Z" fill="#1040f0" stroke="none" stroke-width="0" stroke-linejoin="round"/>
<path d="M363.7 281.8 L377.2 281.8 L370.5 269.4 Z" fill="#1040f0" stroke="none" stroke-width="0" stroke-linejoin="round"/>
<path d="M375.0 276.4 L388.5 276.4 L381.7 264.0 Z" fill="#1040f0" stroke="none" stroke-width="0" stroke-linejoin="round"/>
<path d="M386.3 271.0 L399.8 271.0 L393.0 258.6 Z" fill="#1040f0" stroke="none" stroke-width="0" stroke-linejoin="round"/>
<path d="M397.5 265.5 L411.0 265.5 L404.3 253.1 Z" fill="#1040f0" stroke="none" stroke-width="0" stroke-linejoin="round"/>
<path d="M408.8 260.0 L422.3 260.0 L415.5 247.6 Z" fill="#1040f0" stroke="none" stroke-width="0" stroke-linejoin="round"/>
<path d="M420.0 255.4 L433.5 255.4 L426.8 243.0 Z" fill="#1040f0" stroke="none" stroke-width="0" stroke-linejoin="round"/>
<path d="M431.3 251.3 L444.8 251.3 L438.0 238.9 Z" fill="#1040f0" stroke="none" stroke-width="0" stroke-linejoin="round"/>
<path d="M442.5 247.7 L456.0 247.7 L449.3 235.3 Z" fill="#1040f0" stroke="none" stroke-width="0" stroke-linejoin="round"/>
<path d="M453.8 244.9 L467.3 244.9 L460.5 232.5 Z" fill="#1040f0" stroke="none" stroke-width="0" stroke-linejoin="round"/>
<path d="M465.1 242.4 L478.6 242.4 L471.8 230.0 Z" fill="#1040f0" stroke="none" stroke-width="0" stroke-linejoin="round"/>
<path d="M476.3 240.5 L489.8 240.5 L483.1 228.1 Z" fill="#1040f0" stroke="none" stroke-width="0" stroke-linejoin="round"/>
<path d="M487.6 239.8 L501.1 239.8 L494.3 227.4 Z" fill="#1040f0" stroke="none" stroke-width="0" stroke-linejoin="round"/>
<path d="M498.8 239.5 L512.3 239.5 L505.6 227.1 Z" fill="#1040f0" stroke="none" stroke-width="0" stroke-linejoin="round"/>
<path d="M510.1 239.2 L523.6 239.2 L516.8 226.8 Z" fill="#1040f0" stroke="none" stroke-width="0" stroke-linejoin="round"/>
<path d="M521.3 238.8 L534.8 238.8 L528.1 226.4 Z" fill="#1040f0" stroke="none" stroke-width="0" stroke-linejoin="round"/>
<path d="M532.6 238.5 L546.1 238.5 L539.3 226.1 Z" fill="#1040f0" stroke="none" stroke-width="0" stroke-linejoin="round"/>
<path d="M543.9 238.3 L557.4 238.3 L550.6 225.9 Z" fill="#1040f0" stroke="none" stroke-width="0" stroke-linejoin="round"/>
<path d="M555.1 238.1 L568.6 238.1 L561.9 225.7 Z" fill="#1040f0" stroke="none" stroke-width="0" stroke-linejoin="round"/>
<path d="M566.4 237.9 L579.9 237.9 L573.1 225.5 Z" fill="#1040f0" stroke="none" stroke-width="0" stroke-linejoin="round"/>
<path d="M577.6 237.8 L591.1 237.8 L584.4 225.4 Z" fill="#1040f0" stroke="none" stroke-width="0" stroke-linejoin="round"/>
<path d="M588.9 237.6 L602.4 237.6 L595.6 225.2 Z" fill="#1040f0" stroke="none" stroke-width="0" stroke-linejoin="round"/>
<path d="M156.6 314.9 V318.1 M149.3 314.9 H163.8 M149.3 318.1 H163.8" stroke="#0a1fa0" stroke-width="1.8" fill="none" />
<path d="M167.7 309.1 V315.0 M160.5 309.1 H175.0 M160.5 315.0 H175.0" stroke="#0a1fa0" stroke-width="1.8" fill="none" />
<path d="M178.9 303.2 V312.0 M171.6 303.2 H186.1 M171.6 312.0 H186.1" stroke="#0a1fa0" stroke-width="1.8" fill="none" />
<path d="M190.0 297.4 V308.9 M182.7 297.4 H197.2 M182.7 308.9 H197.2" stroke="#0a1fa0" stroke-width="1.8" fill="none" />
<path d="M201.1 290.3 V304.6 M193.9 290.3 H208.4 M193.9 304.6 H208.4" stroke="#0a1fa0" stroke-width="1.8" fill="none" />
<path d="M212.2 283.0 V300.1 M205.0 283.0 H219.5 M205.0 300.1 H219.5" stroke="#0a1fa0" stroke-width="1.8" fill="none" />
<path d="M223.4 275.6 V295.2 M216.1 275.6 H230.6 M216.1 295.2 H230.6" stroke="#0a1fa0" stroke-width="1.8" fill="none" />
<path d="M234.5 268.5 V290.0 M227.3 268.5 H241.8 M227.3 290.0 H241.8" stroke="#0a1fa0" stroke-width="1.8" fill="none" />
<path d="M245.6 261.4 V284.8 M238.4 261.4 H252.9 M238.4 284.8 H252.9" stroke="#0a1fa0" stroke-width="1.8" fill="none" />
<path d="M256.8 254.3 V279.5 M249.5 254.3 H264.0 M249.5 279.5 H264.0" stroke="#0a1fa0" stroke-width="1.8" fill="none" />
<path d="M267.9 247.2 V274.3 M260.6 247.2 H275.1 M260.6 274.3 H275.1" stroke="#0a1fa0" stroke-width="1.8" fill="none" />
<path d="M279.0 240.5 V269.5 M271.8 240.5 H286.3 M271.8 269.5 H286.3" stroke="#0a1fa0" stroke-width="1.8" fill="none" />
<path d="M290.2 234.8 V265.6 M282.9 234.8 H297.4 M282.9 265.6 H297.4" stroke="#0a1fa0" stroke-width="1.8" fill="none" />
<path d="M301.3 229.1 V261.8 M294.0 229.1 H308.5 M294.0 261.8 H308.5" stroke="#0a1fa0" stroke-width="1.8" fill="none" />
<path d="M312.4 223.4 V258.0 M305.2 223.4 H319.7 M305.2 258.0 H319.7" stroke="#0a1fa0" stroke-width="1.8" fill="none" />
<path d="M323.6 217.8 V254.1 M316.3 217.8 H330.8 M316.3 254.1 H330.8" stroke="#0a1fa0" stroke-width="1.8" fill="none" />
<path d="M334.7 212.6 V249.5 M327.4 212.6 H341.9 M327.4 249.5 H341.9" stroke="#0a1fa0" stroke-width="1.8" fill="none" />
<path d="M345.8 207.2 V244.1 M338.6 207.2 H353.1 M338.6 244.1 H353.1" stroke="#0a1fa0" stroke-width="1.8" fill="none" />
<path d="M356.9 201.7 V238.6 M349.7 201.7 H364.2 M349.7 238.6 H364.2" stroke="#0a1fa0" stroke-width="1.8" fill="none" />
<path d="M368.1 196.3 V233.2 M360.8 196.3 H375.3 M360.8 233.2 H375.3" stroke="#0a1fa0" stroke-width="1.8" fill="none" />
<path d="M379.2 190.8 V227.7 M372.0 190.8 H386.5 M372.0 227.7 H386.5" stroke="#0a1fa0" stroke-width="1.8" fill="none" />
<path d="M390.3 184.8 V224.5 M383.1 184.8 H397.6 M383.1 224.5 H397.6" stroke="#0a1fa0" stroke-width="1.8" fill="none" />
<path d="M401.5 178.8 V221.3 M394.2 178.8 H408.7 M394.2 221.3 H408.7" stroke="#0a1fa0" stroke-width="1.8" fill="none" />
<path d="M412.6 172.8 V218.1 M405.3 172.8 H419.8 M405.3 218.1 H419.8" stroke="#0a1fa0" stroke-width="1.8" fill="none" />
<path d="M423.7 166.6 V214.7 M416.5 166.6 H431.0 M416.5 214.7 H431.0" stroke="#0a1fa0" stroke-width="1.8" fill="none" />
<path d="M434.9 159.5 V210.4 M427.6 159.5 H442.1 M427.6 210.4 H442.1" stroke="#0a1fa0" stroke-width="1.8" fill="none" />
<path d="M446.0 152.4 V206.0 M438.7 152.4 H453.2 M438.7 206.0 H453.2" stroke="#0a1fa0" stroke-width="1.8" fill="none" />
<path d="M457.1 145.3 V201.6 M449.9 145.3 H464.4 M449.9 201.6 H464.4" stroke="#0a1fa0" stroke-width="1.8" fill="none" />
<path d="M468.2 138.2 V197.2 M461.0 138.2 H475.5 M461.0 197.2 H475.5" stroke="#0a1fa0" stroke-width="1.8" fill="none" />
<path d="M479.4 131.5 V192.4 M472.1 131.5 H486.6 M472.1 192.4 H486.6" stroke="#0a1fa0" stroke-width="1.8" fill="none" />
<path d="M490.5 125.3 V187.1 M483.2 125.3 H497.8 M483.2 187.1 H497.8" stroke="#0a1fa0" stroke-width="1.8" fill="none" />
<path d="M501.6 119.0 V181.9 M494.4 119.0 H508.9 M494.4 181.9 H508.9" stroke="#0a1fa0" stroke-width="1.8" fill="none" />
<path d="M512.8 112.8 V176.7 M505.5 112.8 H520.0 M505.5 176.7 H520.0" stroke="#0a1fa0" stroke-width="1.8" fill="none" />
<path d="M523.9 106.5 V171.4 M516.6 106.5 H531.1 M516.6 171.4 H531.1" stroke="#0a1fa0" stroke-width="1.8" fill="none" />
<polyline points="156.6,316.5 167.7,312.0 178.9,307.6 190.0,303.2 201.1,297.4 212.2,291.5 223.4,285.4 234.5,279.3 245.6,273.1 256.8,266.9 267.9,260.8 279.0,255.0 290.2,250.2 301.3,245.5 312.4,240.7 323.6,235.9 334.7,231.1 345.8,225.6 356.9,220.2 368.1,214.7 379.2,209.3 390.3,204.7 401.5,200.0 412.6,195.4 423.7,190.6 434.9,184.9 446.0,179.2 457.1,173.4 468.2,167.7 479.4,162.0 490.5,156.2 501.6,150.5 512.8,144.7 523.9,139.0" fill="none" stroke="#0a1fa0" stroke-width="3"/>
<rect x="149.8" y="309.7" width="13.5" height="13.5" fill="#0a1fa0" stroke="none" stroke-width="0" />
<rect x="161.0" y="305.3" width="13.5" height="13.5" fill="#0a1fa0" stroke="none" stroke-width="0" />
<rect x="172.1" y="300.9" width="13.5" height="13.5" fill="#0a1fa0" stroke="none" stroke-width="0" />
<rect x="183.2" y="296.4" width="13.5" height="13.5" fill="#0a1fa0" stroke="none" stroke-width="0" />
<rect x="194.4" y="290.7" width="13.5" height="13.5" fill="#0a1fa0" stroke="none" stroke-width="0" />
<rect x="205.5" y="284.8" width="13.5" height="13.5" fill="#0a1fa0" stroke="none" stroke-width="0" />
<rect x="216.6" y="278.7" width="13.5" height="13.5" fill="#0a1fa0" stroke="none" stroke-width="0" />
<rect x="227.8" y="272.5" width="13.5" height="13.5" fill="#0a1fa0" stroke="none" stroke-width="0" />
<rect x="238.9" y="266.3" width="13.5" height="13.5" fill="#0a1fa0" stroke="none" stroke-width="0" />
<rect x="250.0" y="260.2" width="13.5" height="13.5" fill="#0a1fa0" stroke="none" stroke-width="0" />
<rect x="261.1" y="254.0" width="13.5" height="13.5" fill="#0a1fa0" stroke="none" stroke-width="0" />
<rect x="272.3" y="248.2" width="13.5" height="13.5" fill="#0a1fa0" stroke="none" stroke-width="0" />
<rect x="283.4" y="243.5" width="13.5" height="13.5" fill="#0a1fa0" stroke="none" stroke-width="0" />
<rect x="294.5" y="238.7" width="13.5" height="13.5" fill="#0a1fa0" stroke="none" stroke-width="0" />
<rect x="305.7" y="234.0" width="13.5" height="13.5" fill="#0a1fa0" stroke="none" stroke-width="0" />
<rect x="316.8" y="229.2" width="13.5" height="13.5" fill="#0a1fa0" stroke="none" stroke-width="0" />
<rect x="327.9" y="224.3" width="13.5" height="13.5" fill="#0a1fa0" stroke="none" stroke-width="0" />
<rect x="339.1" y="218.9" width="13.5" height="13.5" fill="#0a1fa0" stroke="none" stroke-width="0" />
<rect x="350.2" y="213.4" width="13.5" height="13.5" fill="#0a1fa0" stroke="none" stroke-width="0" />
<rect x="361.3" y="208.0" width="13.5" height="13.5" fill="#0a1fa0" stroke="none" stroke-width="0" />
<rect x="372.5" y="202.5" width="13.5" height="13.5" fill="#0a1fa0" stroke="none" stroke-width="0" />
<rect x="383.6" y="197.9" width="13.5" height="13.5" fill="#0a1fa0" stroke="none" stroke-width="0" />
<rect x="394.7" y="193.3" width="13.5" height="13.5" fill="#0a1fa0" stroke="none" stroke-width="0" />
<rect x="405.8" y="188.7" width="13.5" height="13.5" fill="#0a1fa0" stroke="none" stroke-width="0" />
<rect x="417.0" y="183.9" width="13.5" height="13.5" fill="#0a1fa0" stroke="none" stroke-width="0" />
<rect x="428.1" y="178.2" width="13.5" height="13.5" fill="#0a1fa0" stroke="none" stroke-width="0" />
<rect x="439.2" y="172.4" width="13.5" height="13.5" fill="#0a1fa0" stroke="none" stroke-width="0" />
<rect x="450.4" y="166.7" width="13.5" height="13.5" fill="#0a1fa0" stroke="none" stroke-width="0" />
<rect x="461.5" y="160.9" width="13.5" height="13.5" fill="#0a1fa0" stroke="none" stroke-width="0" />
<rect x="472.6" y="155.2" width="13.5" height="13.5" fill="#0a1fa0" stroke="none" stroke-width="0" />
<rect x="483.8" y="149.5" width="13.5" height="13.5" fill="#0a1fa0" stroke="none" stroke-width="0" />
<rect x="494.9" y="143.7" width="13.5" height="13.5" fill="#0a1fa0" stroke="none" stroke-width="0" />
<rect x="506.0" y="138.0" width="13.5" height="13.5" fill="#0a1fa0" stroke="none" stroke-width="0" />
<rect x="517.1" y="132.2" width="13.5" height="13.5" fill="#0a1fa0" stroke="none" stroke-width="0" />
<path d="M156.6 377.5 V379.5 M149.3 377.5 H163.8 M149.3 379.5 H163.8" stroke="#00f000" stroke-width="1.8" fill="none" />
<path d="M162.2 368.1 V372.2 M154.9 368.1 H169.4 M154.9 372.2 H169.4" stroke="#00f000" stroke-width="1.8" fill="none" />
<path d="M167.7 358.6 V365.0 M160.5 358.6 H175.0 M160.5 365.0 H175.0" stroke="#00f000" stroke-width="1.8" fill="none" />
<path d="M173.3 349.1 V357.8 M166.0 349.1 H180.5 M166.0 357.8 H180.5" stroke="#00f000" stroke-width="1.8" fill="none" />
<path d="M178.9 339.6 V350.6 M171.6 339.6 H186.1 M171.6 350.6 H186.1" stroke="#00f000" stroke-width="1.8" fill="none" />
<path d="M184.4 331.4 V344.7 M177.2 331.4 H191.7 M177.2 344.7 H191.7" stroke="#00f000" stroke-width="1.8" fill="none" />
<path d="M190.0 323.2 V338.8 M182.7 323.2 H197.2 M182.7 338.8 H197.2" stroke="#00f000" stroke-width="1.8" fill="none" />
<path d="M195.6 315.0 V332.9 M188.3 315.0 H202.8 M188.3 332.9 H202.8" stroke="#00f000" stroke-width="1.8" fill="none" />
<path d="M201.1 306.9 V327.1 M193.9 306.9 H208.4 M193.9 327.1 H208.4" stroke="#00f000" stroke-width="1.8" fill="none" />
<path d="M206.7 299.5 V321.9 M199.4 299.5 H213.9 M199.4 321.9 H213.9" stroke="#00f000" stroke-width="1.8" fill="none" />
<path d="M212.2 292.0 V316.7 M205.0 292.0 H219.5 M205.0 316.7 H219.5" stroke="#00f000" stroke-width="1.8" fill="none" />
<path d="M217.8 284.6 V311.6 M210.6 284.6 H225.1 M210.6 311.6 H225.1" stroke="#00f000" stroke-width="1.8" fill="none" />
<path d="M223.4 276.7 V306.0 M216.1 276.7 H230.6 M216.1 306.0 H230.6" stroke="#00f000" stroke-width="1.8" fill="none" />
<path d="M228.9 267.9 V299.2 M221.7 267.9 H236.2 M221.7 299.2 H236.2" stroke="#00f000" stroke-width="1.8" fill="none" />
<path d="M234.5 259.1 V292.4 M227.3 259.1 H241.8 M227.3 292.4 H241.8" stroke="#00f000" stroke-width="1.8" fill="none" />
<path d="M240.1 252.6 V288.1 M232.8 252.6 H247.3 M232.8 288.1 H247.3" stroke="#00f000" stroke-width="1.8" fill="none" />
<path d="M245.6 247.4 V284.3 M238.4 247.4 H252.9 M238.4 284.3 H252.9" stroke="#00f000" stroke-width="1.8" fill="none" />
<path d="M251.2 243.0 V279.9 M244.0 243.0 H258.5 M244.0 279.9 H258.5" stroke="#00f000" stroke-width="1.8" fill="none" />
<path d="M256.8 239.0 V275.9 M249.5 239.0 H264.0 M249.5 275.9 H264.0" stroke="#00f000" stroke-width="1.8" fill="none" />
<path d="M262.3 235.1 V272.0 M255.1 235.1 H269.6 M255.1 272.0 H269.6" stroke="#00f000" stroke-width="1.8" fill="none" />
<path d="M267.9 231.7 V268.6 M260.6 231.7 H275.1 M260.6 268.6 H275.1" stroke="#00f000" stroke-width="1.8" fill="none" />
<path d="M273.5 228.8 V265.7 M266.2 228.8 H280.7 M266.2 265.7 H280.7" stroke="#00f000" stroke-width="1.8" fill="none" />
<path d="M279.0 225.8 V262.7 M271.8 225.8 H286.3 M271.8 262.7 H286.3" stroke="#00f000" stroke-width="1.8" fill="none" />
<path d="M284.6 222.9 V259.8 M277.3 222.9 H291.8 M277.3 259.8 H291.8" stroke="#00f000" stroke-width="1.8" fill="none" />
<path d="M290.2 220.5 V257.4 M282.9 220.5 H297.4 M282.9 257.4 H297.4" stroke="#00f000" stroke-width="1.8" fill="none" />
<path d="M295.7 218.2 V255.1 M288.5 218.2 H303.0 M288.5 255.1 H303.0" stroke="#00f000" stroke-width="1.8" fill="none" />
<path d="M301.3 216.1 V253.0 M294.0 216.1 H308.5 M294.0 253.0 H308.5" stroke="#00f000" stroke-width="1.8" fill="none" />
<path d="M306.9 213.9 V250.8 M299.6 213.9 H314.1 M299.6 250.8 H314.1" stroke="#00f000" stroke-width="1.8" fill="none" />
<path d="M312.4 211.8 V248.7 M305.2 211.8 H319.7 M305.2 248.7 H319.7" stroke="#00f000" stroke-width="1.8" fill="none" />
<path d="M322.0 208.9 V245.8 M314.7 208.9 H329.2 M314.7 245.8 H329.2" stroke="#00f000" stroke-width="1.8" fill="none" />
<path d="M333.1 206.9 V242.2 M325.8 206.9 H340.3 M325.8 242.2 H340.3" stroke="#00f000" stroke-width="1.8" fill="none" />
<path d="M344.2 205.8 V239.4 M337.0 205.8 H351.5 M337.0 239.4 H351.5" stroke="#00f000" stroke-width="1.8" fill="none" />
<path d="M355.4 204.8 V236.6 M348.1 204.8 H362.6 M348.1 236.6 H362.6" stroke="#00f000" stroke-width="1.8" fill="none" />
<path d="M366.5 204.1 V234.4 M359.2 204.1 H373.7 M359.2 234.4 H373.7" stroke="#00f000" stroke-width="1.8" fill="none" />
<path d="M377.6 202.9 V232.6 M370.4 202.9 H384.9 M370.4 232.6 H384.9" stroke="#00f000" stroke-width="1.8" fill="none" />
<path d="M388.7 202.3 V231.4 M381.5 202.3 H396.0 M381.5 231.4 H396.0" stroke="#00f000" stroke-width="1.8" fill="none" />
<path d="M399.9 201.8 V230.4 M392.6 201.8 H407.1 M392.6 230.4 H407.1" stroke="#00f000" stroke-width="1.8" fill="none" />
<path d="M411.0 201.4 V229.3 M403.8 201.4 H418.2 M403.8 229.3 H418.2" stroke="#00f000" stroke-width="1.8" fill="none" />
<path d="M422.1 200.9 V228.2 M414.9 200.9 H429.4 M414.9 228.2 H429.4" stroke="#00f000" stroke-width="1.8" fill="none" />
<path d="M433.3 200.5 V227.2 M426.0 200.5 H440.5 M426.0 227.2 H440.5" stroke="#00f000" stroke-width="1.8" fill="none" />
<path d="M444.4 200.0 V226.1 M437.1 200.0 H451.6 M437.1 226.1 H451.6" stroke="#00f000" stroke-width="1.8" fill="none" />
<polyline points="156.6,378.5 162.2,370.1 167.7,361.8 173.3,353.4 178.9,345.1 184.4,338.0 190.0,331.0 195.6,323.9 201.1,317.0 206.7,310.7 212.2,304.4 217.8,298.1 223.4,291.3 228.9,283.5 234.5,275.8 240.1,270.3 245.6,265.9 251.2,261.4 256.8,257.5 262.3,253.6 267.9,250.2 273.5,247.2 279.0,244.3 284.6,241.4 290.2,239.0 295.7,236.7 301.3,234.5 306.9,232.4 312.4,230.2 322.0,227.4 333.1,224.5 344.2,222.6 355.4,220.7 366.5,219.2 377.6,217.8 388.7,216.9 399.9,216.1 411.0,215.3 422.1,214.6 433.3,213.8 444.4,213.1" fill="none" stroke="#00f000" stroke-width="3"/>
<path d="M149.8 372.8 L163.3 372.8 L156.6 385.2 Z" fill="#00f000" stroke="none" stroke-width="0"/>
<path d="M155.4 364.4 L168.9 364.4 L162.2 376.8 Z" fill="#00f000" stroke="none" stroke-width="0"/>
<path d="M161.0 356.1 L174.5 356.1 L167.7 368.5 Z" fill="#00f000" stroke="none" stroke-width="0"/>
<path d="M166.5 347.7 L180.0 347.7 L173.3 360.1 Z" fill="#00f000" stroke="none" stroke-width="0"/>
<path d="M172.1 339.4 L185.6 339.4 L178.9 351.8 Z" fill="#00f000" stroke="none" stroke-width="0"/>
<path d="M177.7 332.3 L191.2 332.3 L184.4 344.7 Z" fill="#00f000" stroke="none" stroke-width="0"/>
<path d="M183.2 325.3 L196.7 325.3 L190.0 337.7 Z" fill="#00f000" stroke="none" stroke-width="0"/>
<path d="M188.8 318.2 L202.3 318.2 L195.6 330.6 Z" fill="#00f000" stroke="none" stroke-width="0"/>
<path d="M194.4 311.3 L207.9 311.3 L201.1 323.7 Z" fill="#00f000" stroke="none" stroke-width="0"/>
<path d="M199.9 305.0 L213.4 305.0 L206.7 317.4 Z" fill="#00f000" stroke="none" stroke-width="0"/>
<path d="M205.5 298.7 L219.0 298.7 L212.2 311.1 Z" fill="#00f000" stroke="none" stroke-width="0"/>
<path d="M211.1 292.4 L224.6 292.4 L217.8 304.8 Z" fill="#00f000" stroke="none" stroke-width="0"/>
<path d="M216.6 285.6 L230.1 285.6 L223.4 298.0 Z" fill="#00f000" stroke="none" stroke-width="0"/>
<path d="M222.2 277.8 L235.7 277.8 L228.9 290.2 Z" fill="#00f000" stroke="none" stroke-width="0"/>
<path d="M227.8 270.1 L241.3 270.1 L234.5 282.5 Z" fill="#00f000" stroke="none" stroke-width="0"/>
<path d="M233.3 264.6 L246.8 264.6 L240.1 277.0 Z" fill="#00f000" stroke="none" stroke-width="0"/>
<path d="M238.9 260.2 L252.4 260.2 L245.6 272.6 Z" fill="#00f000" stroke="none" stroke-width="0"/>
<path d="M244.5 255.7 L258.0 255.7 L251.2 268.1 Z" fill="#00f000" stroke="none" stroke-width="0"/>
<path d="M250.0 251.8 L263.5 251.8 L256.8 264.2 Z" fill="#00f000" stroke="none" stroke-width="0"/>
<path d="M255.6 247.9 L269.1 247.9 L262.3 260.3 Z" fill="#00f000" stroke="none" stroke-width="0"/>
<path d="M261.1 244.5 L274.6 244.5 L267.9 256.9 Z" fill="#00f000" stroke="none" stroke-width="0"/>
<path d="M266.7 241.5 L280.2 241.5 L273.5 253.9 Z" fill="#00f000" stroke="none" stroke-width="0"/>
<path d="M272.3 238.6 L285.8 238.6 L279.0 251.0 Z" fill="#00f000" stroke="none" stroke-width="0"/>
<path d="M277.8 235.7 L291.3 235.7 L284.6 248.1 Z" fill="#00f000" stroke="none" stroke-width="0"/>
<path d="M283.4 233.3 L296.9 233.3 L290.2 245.7 Z" fill="#00f000" stroke="none" stroke-width="0"/>
<path d="M289.0 231.0 L302.5 231.0 L295.7 243.4 Z" fill="#00f000" stroke="none" stroke-width="0"/>
<path d="M294.5 228.8 L308.0 228.8 L301.3 241.2 Z" fill="#00f000" stroke="none" stroke-width="0"/>
<path d="M300.1 226.7 L313.6 226.7 L306.9 239.1 Z" fill="#00f000" stroke="none" stroke-width="0"/>
<path d="M305.7 224.5 L319.2 224.5 L312.4 236.9 Z" fill="#00f000" stroke="none" stroke-width="0"/>
<path d="M315.2 221.7 L328.7 221.7 L322.0 234.1 Z" fill="#00f000" stroke="none" stroke-width="0"/>
<path d="M326.3 218.8 L339.8 218.8 L333.1 231.2 Z" fill="#00f000" stroke="none" stroke-width="0"/>
<path d="M337.5 216.9 L351.0 216.9 L344.2 229.3 Z" fill="#00f000" stroke="none" stroke-width="0"/>
<path d="M348.6 215.0 L362.1 215.0 L355.4 227.4 Z" fill="#00f000" stroke="none" stroke-width="0"/>
<path d="M359.7 213.5 L373.2 213.5 L366.5 225.9 Z" fill="#00f000" stroke="none" stroke-width="0"/>
<path d="M370.9 212.1 L384.4 212.1 L377.6 224.5 Z" fill="#00f000" stroke="none" stroke-width="0"/>
<path d="M382.0 211.2 L395.5 211.2 L388.7 223.6 Z" fill="#00f000" stroke="none" stroke-width="0"/>
<path d="M393.1 210.4 L406.6 210.4 L399.9 222.8 Z" fill="#00f000" stroke="none" stroke-width="0"/>
<path d="M404.2 209.6 L417.8 209.6 L411.0 222.0 Z" fill="#00f000" stroke="none" stroke-width="0"/>
<path d="M415.4 208.9 L428.9 208.9 L422.1 221.3 Z" fill="#00f000" stroke="none" stroke-width="0"/>
<path d="M426.5 208.1 L440.0 208.1 L433.3 220.5 Z" fill="#00f000" stroke="none" stroke-width="0"/>
<path d="M437.6 207.4 L451.1 207.4 L444.4 219.8 Z" fill="#00f000" stroke="none" stroke-width="0"/>
<path d="M156.6 303.7 V310.1 M149.3 303.7 H163.8 M149.3 310.1 H163.8" stroke="#1f8f1f" stroke-width="1.8" fill="none" />
<path d="M162.1 297.1 V303.6 M154.8 297.1 H169.3 M154.8 303.6 H169.3" stroke="#1f8f1f" stroke-width="1.8" fill="none" />
<path d="M167.6 290.5 V297.1 M160.3 290.5 H174.8 M160.3 297.1 H174.8" stroke="#1f8f1f" stroke-width="1.8" fill="none" />
<path d="M173.0 283.7 V290.8 M165.8 283.7 H180.3 M165.8 290.8 H180.3" stroke="#1f8f1f" stroke-width="1.8" fill="none" />
<path d="M178.5 276.9 V284.5 M171.3 276.9 H185.8 M171.3 284.5 H185.8" stroke="#1f8f1f" stroke-width="1.8" fill="none" />
<path d="M184.0 270.0 V278.2 M176.8 270.0 H191.3 M176.8 278.2 H191.3" stroke="#1f8f1f" stroke-width="1.8" fill="none" />
<path d="M189.5 263.1 V272.1 M182.2 263.1 H196.7 M182.2 272.1 H196.7" stroke="#1f8f1f" stroke-width="1.8" fill="none" />
<path d="M195.0 256.0 V266.0 M187.7 256.0 H202.2 M187.7 266.0 H202.2" stroke="#1f8f1f" stroke-width="1.8" fill="none" />
<path d="M200.5 248.9 V260.0 M193.2 248.9 H207.7 M193.2 260.0 H207.7" stroke="#1f8f1f" stroke-width="1.8" fill="none" />
<path d="M205.9 241.7 V254.1 M198.7 241.7 H213.2 M198.7 254.1 H213.2" stroke="#1f8f1f" stroke-width="1.8" fill="none" />
<path d="M211.4 234.4 V248.2 M204.2 234.4 H218.7 M204.2 248.2 H218.7" stroke="#1f8f1f" stroke-width="1.8" fill="none" />
<path d="M216.9 227.1 V242.4 M209.7 227.1 H224.2 M209.7 242.4 H224.2" stroke="#1f8f1f" stroke-width="1.8" fill="none" />
<path d="M222.4 219.7 V236.7 M215.1 219.7 H229.6 M215.1 236.7 H229.6" stroke="#1f8f1f" stroke-width="1.8" fill="none" />
<path d="M227.9 212.2 V231.1 M220.6 212.2 H235.1 M220.6 231.1 H235.1" stroke="#1f8f1f" stroke-width="1.8" fill="none" />
<path d="M233.4 204.6 V225.5 M226.1 204.6 H240.6 M226.1 225.5 H240.6" stroke="#1f8f1f" stroke-width="1.8" fill="none" />
<path d="M238.8 197.0 V220.1 M231.6 197.0 H246.1 M231.6 220.1 H246.1" stroke="#1f8f1f" stroke-width="1.8" fill="none" />
<path d="M244.3 189.3 V214.6 M237.1 189.3 H251.6 M237.1 214.6 H251.6" stroke="#1f8f1f" stroke-width="1.8" fill="none" />
<path d="M249.8 181.5 V209.3 M242.6 181.5 H257.1 M242.6 209.3 H257.1" stroke="#1f8f1f" stroke-width="1.8" fill="none" />
<path d="M255.3 173.7 V204.0 M248.0 173.7 H262.5 M248.0 204.0 H262.5" stroke="#1f8f1f" stroke-width="1.8" fill="none" />
<path d="M260.8 165.7 V198.9 M253.5 165.7 H268.0 M253.5 198.9 H268.0" stroke="#1f8f1f" stroke-width="1.8" fill="none" />
<path d="M266.3 157.7 V193.7 M259.0 157.7 H273.5 M259.0 193.7 H273.5" stroke="#1f8f1f" stroke-width="1.8" fill="none" />
<path d="M271.7 149.7 V188.7 M264.5 149.7 H279.0 M264.5 188.7 H279.0" stroke="#1f8f1f" stroke-width="1.8" fill="none" />
<path d="M277.2 141.5 V183.7 M270.0 141.5 H284.5 M270.0 183.7 H284.5" stroke="#1f8f1f" stroke-width="1.8" fill="none" />
<path d="M282.7 133.3 V178.9 M275.5 133.3 H290.0 M275.5 178.9 H290.0" stroke="#1f8f1f" stroke-width="1.8" fill="none" />
<path d="M288.2 125.0 V174.0 M280.9 125.0 H295.4 M280.9 174.0 H295.4" stroke="#1f8f1f" stroke-width="1.8" fill="none" />
<path d="M293.7 116.6 V169.3 M286.4 116.6 H300.9 M286.4 169.3 H300.9" stroke="#1f8f1f" stroke-width="1.8" fill="none" />
<path d="M299.2 108.1 V164.6 M291.9 108.1 H306.4 M291.9 164.6 H306.4" stroke="#1f8f1f" stroke-width="1.8" fill="none" />
<path d="M304.6 99.6 V160.0 M297.4 99.6 H311.9 M297.4 160.0 H311.9" stroke="#1f8f1f" stroke-width="1.8" fill="none" />
<path d="M310.1 91.0 V155.5 M302.9 91.0 H317.4 M302.9 155.5 H317.4" stroke="#1f8f1f" stroke-width="1.8" fill="none" />
<path d="M315.6 82.3 V151.1 M308.4 82.3 H322.9 M308.4 151.1 H322.9" stroke="#1f8f1f" stroke-width="1.8" fill="none" />
<polyline points="156.6,306.9 162.1,300.4 167.6,293.8 173.0,287.2 178.5,280.7 184.0,274.1 189.5,267.6 195.0,261.0 200.5,254.5 205.9,247.9 211.4,241.3 216.9,234.8 222.4,228.2 227.9,221.7 233.4,215.1 238.8,208.5 244.3,202.0 249.8,195.4 255.3,188.9 260.8,182.3 266.3,175.7 271.7,169.2 277.2,162.6 282.7,156.1 288.2,149.5 293.7,142.9 299.2,136.4 304.6,129.8 310.1,123.3 315.6,116.7" fill="none" stroke="#1f8f1f" stroke-width="4"/>
<circle cx="156.6" cy="306.9" r="6.3" fill="#1f8f1f" stroke="none" stroke-width="0" />
<circle cx="162.1" cy="300.4" r="6.3" fill="#1f8f1f" stroke="none" stroke-width="0" />
<circle cx="167.6" cy="293.8" r="6.3" fill="#1f8f1f" stroke="none" stroke-width="0" />
<circle cx="173.0" cy="287.2" r="6.3" fill="#1f8f1f" stroke="none" stroke-width="0" />
<circle cx="178.5" cy="280.7" r="6.3" fill="#1f8f1f" stroke="none" stroke-width="0" />
<circle cx="184.0" cy="274.1" r="6.3" fill="#1f8f1f" stroke="none" stroke-width="0" />
<circle cx="189.5" cy="267.6" r="6.3" fill="#1f8f1f" stroke="none" stroke-width="0" />
<circle cx="195.0" cy="261.0" r="6.3" fill="#1f8f1f" stroke="none" stroke-width="0" />
<circle cx="200.5" cy="254.5" r="6.3" fill="#1f8f1f" stroke="none" stroke-width="0" />
<circle cx="205.9" cy="247.9" r="6.3" fill="#1f8f1f" stroke="none" stroke-width="0" />
<circle cx="211.4" cy="241.3" r="6.3" fill="#1f8f1f" stroke="none" stroke-width="0" />
<circle cx="216.9" cy="234.8" r="6.3" fill="#1f8f1f" stroke="none" stroke-width="0" />
<circle cx="222.4" cy="228.2" r="6.3" fill="#1f8f1f" stroke="none" stroke-width="0" />
<circle cx="227.9" cy="221.7" r="6.3" fill="#1f8f1f" stroke="none" stroke-width="0" />
<circle cx="233.4" cy="215.1" r="6.3" fill="#1f8f1f" stroke="none" stroke-width="0" />
<circle cx="238.8" cy="208.5" r="6.3" fill="#1f8f1f" stroke="none" stroke-width="0" />
<circle cx="244.3" cy="202.0" r="6.3" fill="#1f8f1f" stroke="none" stroke-width="0" />
<circle cx="249.8" cy="195.4" r="6.3" fill="#1f8f1f" stroke="none" stroke-width="0" />
<circle cx="255.3" cy="188.9" r="6.3" fill="#1f8f1f" stroke="none" stroke-width="0" />
<circle cx="260.8" cy="182.3" r="6.3" fill="#1f8f1f" stroke="none" stroke-width="0" />
<circle cx="266.3" cy="175.7" r="6.3" fill="#1f8f1f" stroke="none" stroke-width="0" />
<circle cx="271.7" cy="169.2" r="6.3" fill="#1f8f1f" stroke="none" stroke-width="0" />
<circle cx="277.2" cy="162.6" r="6.3" fill="#1f8f1f" stroke="none" stroke-width="0" />
<circle cx="282.7" cy="156.1" r="6.3" fill="#1f8f1f" stroke="none" stroke-width="0" />
<circle cx="288.2" cy="149.5" r="6.3" fill="#1f8f1f" stroke="none" stroke-width="0" />
<circle cx="293.7" cy="142.9" r="6.3" fill="#1f8f1f" stroke="none" stroke-width="0" />
<circle cx="299.2" cy="136.4" r="6.3" fill="#1f8f1f" stroke="none" stroke-width="0" />
<circle cx="304.6" cy="129.8" r="6.3" fill="#1f8f1f" stroke="none" stroke-width="0" />
<circle cx="310.1" cy="123.3" r="6.3" fill="#1f8f1f" stroke="none" stroke-width="0" />
<circle cx="315.6" cy="116.7" r="6.3" fill="#1f8f1f" stroke="none" stroke-width="0" />
<path d="M90.5 518.6 L104.0 518.6 L97.3 531.0 Z" fill="#00f000" stroke="none" stroke-width="0"/>
<text x="122.6" y="535.8" textLength="93.0" lengthAdjust="spacingAndGlyphs">Human</text>
<circle cx="97.3" cy="571.8" r="6.8" fill="#1f8f1f" stroke="none" stroke-width="0" />
<text x="123.3" y="582.3" textLength="193.0" lengthAdjust="spacingAndGlyphs">Human-hTERT</text>
<path d="M346.2 531.8 L359.8 531.8 L353.0 519.4 Z" fill="#1040f0" stroke="none" stroke-width="0" stroke-linejoin="round"/>
<text x="380.0" y="533.6" textLength="208.0" lengthAdjust="spacingAndGlyphs">Bowhead whale</text>
<rect x="346.2" y="564.5" width="13.5" height="13.5" fill="#0a1fa0" stroke="none" stroke-width="0" />
<text x="381.5" y="581.8" textLength="306.0" lengthAdjust="spacingAndGlyphs">Bowhead whale-hTERT</text>
</g>
<g id="pb">
<text x="745.3" y="24.2" stroke="#000" stroke-width="0.8" stroke-linejoin="round" font-size="32.5" font-weight="bold">b</text>
<rect x="745.5" y="149.8" width="314.0" height="313.5" fill="#ececec" stroke="none" stroke-width="0" />
<g clip-path="url(#clipb)"><g filter="url(#gb)">
<rect x="769.5" y="150.0" width="27.0" height="313.0" fill="url(#ln1)"/>
<rect x="767.0" y="316.0" width="70.0" height="120.0" fill="url(#ln2)"/>
<rect x="764.0" y="316.0" width="38.0" height="112.0" fill="url(#ln3)"/>
<rect x="807.3" y="150.0" width="29.0" height="313.0" fill="url(#ln4)"/>
<rect x="804.3" y="362.0" width="35.0" height="64.0" fill="url(#ln5)"/>
<rect x="843.8" y="150.0" width="30.0" height="313.0" fill="url(#ln6)"/>
<rect x="746.0" y="150.0" width="20.0" height="313.0" fill="url(#ln7)"/>
<rect x="1033.0" y="400.0" width="14.0" height="20.0" fill="url(#ln8)"/>
</g></g>
<rect x="745.5" y="149.8" width="314.0" height="313.5" fill="none" stroke="#000" stroke-width="1.3" />
<text  textLength="66.0" lengthAdjust="spacingAndGlyphs" transform="translate(789.8 135.5) rotate(-90)">HeLa</text>
<text  textLength="85.3" lengthAdjust="spacingAndGlyphs" transform="translate(829.5 135.5) rotate(-90)">Mouse</text>
<text  textLength="63.0" lengthAdjust="spacingAndGlyphs" transform="translate(870.4 135.5) rotate(-90)">NMR</text>
<text  textLength="93.0" lengthAdjust="spacingAndGlyphs" transform="translate(910.7 135.5) rotate(-90)">Human</text>
<text  textLength="103.4" lengthAdjust="spacingAndGlyphs" transform="translate(949.6 137.3) rotate(-90)">Whale 1</text>
<text  textLength="103.4" lengthAdjust="spacingAndGlyphs" transform="translate(990.8 137.3) rotate(-90)">Whale 2</text>
<text  textLength="103.4" lengthAdjust="spacingAndGlyphs" transform="translate(1035.8 137.3) rotate(-90)">Whale 3</text>
</g>
<g id="pc">
<text x="1084.8" y="24.2" stroke="#000" stroke-width="0.8" stroke-linejoin="round" font-size="32.5" font-weight="bold">c</text>
<rect x="1210.3" y="114.3" width="251.1" height="376.5" fill="#f0f0f0" stroke="none" stroke-width="0" />
<g clip-path="url(#clipc)"><g filter="url(#gc)">
<rect x="1241.4" y="100.0" width="25.0" height="395.0" fill="url(#ln9)"/>
<rect x="1273.9" y="100.0" width="25.0" height="395.0" fill="url(#ln10)"/>
<rect x="1335.4" y="100.0" width="30.0" height="395.0" fill="url(#ln11)"/>
<ellipse cx="1350.4" cy="270" rx="18" ry="58" fill="#000" filter="url(#bl3)"/>
<ellipse cx="1350.4" cy="245" rx="16.5" ry="45" fill="#000"/>
<rect x="1368.8" y="100.0" width="26.0" height="395.0" fill="url(#ln12)"/>
<rect x="1400.2" y="100.0" width="26.0" height="395.0" fill="url(#ln13)"/>
<rect x="1455.0" y="100.0" width="8.0" height="395.0" fill="url(#ln14)"/>
<rect x="1395" y="463" width="30" height="3" fill="#000" opacity="0.12"/>
<rect x="1432" y="464" width="26" height="4" fill="#000" opacity="0.22"/>
</g></g>
<rect x="1210.3" y="114.3" width="251.1" height="376.5" fill="none" stroke="#000" stroke-width="1.3" />
<text x="1222.0" y="38.7" textLength="92.2" lengthAdjust="spacingAndGlyphs">Human</text>
<text x="1342.3" y="38.7" textLength="80.1" lengthAdjust="spacingAndGlyphs">Whale</text>
<path d="M1245.6 62.5 C1245.6 58 1247 57.5 1251 57.5 H1262 C1265.5 57.5 1267 57 1267.4 54 C1267.8 57 1269.3 57.5 1272.8 57.5 H1283.7 C1287.7 57.5 1289.1 58 1289.1 62.5" stroke="#000" stroke-width="2.6" fill="none" />
<path d="M1341.4 62.5 C1341.4 58 1342.8 57.5 1346.8 57.5 H1376.5 C1380 57.5 1381.5 57 1381.9 54 C1382.3 57 1383.8 57.5 1387.3 57.5 H1417 C1421 57.5 1422.4 58 1422.4 62.5" stroke="#000" stroke-width="2.6" fill="none" />
<text  transform="translate(1261.3 104.5) rotate(-90)">40</text>
<text  transform="translate(1297.0 104.5) rotate(-90)">67</text>
<text  transform="translate(1360.1 104.5) rotate(-90)">10</text>
<text  transform="translate(1393.7 104.5) rotate(-90)">38</text>
<text  transform="translate(1423.9 104.5) rotate(-90)">48</text>
<text x="1455.6" y="94.3" textLength="37.8" lengthAdjust="spacingAndGlyphs">PD</text>
<text x="1085.4" y="135.1" textLength="109.4" lengthAdjust="spacingAndGlyphs">Size (kb)</text>
<text x="1195.7" y="171.7" text-anchor="end">12</text>
<text x="1195.7" y="243.3" text-anchor="end">8</text>
<text x="1195.7" y="315.2" text-anchor="end">5</text>
<text x="1195.7" y="350.6" text-anchor="end">4</text>
<text x="1195.7" y="421.6" text-anchor="end">3</text>
</g>
<g id="pd">
<text x="1555.5" y="24.2" stroke="#000" stroke-width="0.8" stroke-linejoin="round" font-size="32.5" font-weight="bold">d</text>
<rect x="1696.6" y="419.5" width="28.4" height="25.7" fill="#00ee00" stroke="#000" stroke-width="2.0" />
<rect x="1749.4" y="167.8" width="28.4" height="277.4" fill="#00ee00" stroke="#000" stroke-width="2.0" />
<rect x="1802.5" y="145.6" width="28.4" height="299.6" fill="#00ee00" stroke="#000" stroke-width="2.0" />
<rect x="1855.6" y="154.9" width="28.4" height="290.3" fill="#00ee00" stroke="#000" stroke-width="2.0" />
<rect x="1944.6" y="419.8" width="28.4" height="25.4" fill="#0f3ff0" stroke="#000" stroke-width="2.0" />
<rect x="1997.3" y="154.4" width="28.4" height="290.8" fill="#0f3ff0" stroke="#000" stroke-width="2.0" />
<rect x="2050.5" y="157.3" width="28.4" height="287.9" fill="#0f3ff0" stroke="#000" stroke-width="2.0" />
<rect x="2103.6" y="152.9" width="28.4" height="292.3" fill="#0f3ff0" stroke="#000" stroke-width="2.0" />
<path d="M1763.6 153.3 V176.7 M1754.8 153.3 H1772.3 M1754.8 176.7 H1772.3" stroke="#000" stroke-width="1.3" fill="none" />
<path d="M1816.7 136.7 V146.2 M1808.0 136.7 H1825.5 M1808.0 146.2 H1825.5" stroke="#000" stroke-width="1.3" fill="none" />
<path d="M1869.8 129.6 V174.9 M1861.0 129.6 H1878.5 M1861.0 174.9 H1878.5" stroke="#000" stroke-width="1.3" fill="none" />
<path d="M2011.5 144.4 V157.1 M2002.8 144.4 H2020.2 M2002.8 157.1 H2020.2" stroke="#000" stroke-width="1.3" fill="none" />
<path d="M2064.7 151.5 V158.5 M2055.9 151.5 H2073.4 M2055.9 158.5 H2073.4" stroke="#000" stroke-width="1.3" fill="none" />
<path d="M2117.8 140.7 V154.0 M2109.1 140.7 H2126.6 M2109.1 154.0 H2126.6" stroke="#000" stroke-width="1.3" fill="none" />
<circle cx="1698.6" cy="413.6" r="6.2" fill="#00ee00" stroke="#000" stroke-width="1.9" />
<circle cx="1710.4" cy="413.6" r="6.2" fill="#00ee00" stroke="#000" stroke-width="1.9" />
<circle cx="1722.4" cy="413.6" r="6.2" fill="#00ee00" stroke="#000" stroke-width="1.9" />
<circle cx="1763.3" cy="152.2" r="6.2" fill="#00ee00" stroke="#000" stroke-width="1.9" />
<circle cx="1752.2" cy="174.4" r="6.2" fill="#00ee00" stroke="#000" stroke-width="1.9" />
<circle cx="1774.4" cy="167.8" r="6.2" fill="#00ee00" stroke="#000" stroke-width="1.9" />
<circle cx="1805.1" cy="146.0" r="6.2" fill="#00ee00" stroke="#000" stroke-width="1.9" />
<circle cx="1827.8" cy="142.7" r="6.2" fill="#00ee00" stroke="#000" stroke-width="1.9" />
<circle cx="1816.2" cy="136.0" r="6.2" fill="#00ee00" stroke="#000" stroke-width="1.9" />
<circle cx="1869.6" cy="136.0" r="6.2" fill="#00ee00" stroke="#000" stroke-width="1.9" />
<circle cx="1869.6" cy="168.2" r="6.2" fill="#00ee00" stroke="#000" stroke-width="1.9" />
<rect x="1940.3" y="407.6" width="12.0" height="12.0" fill="#0f3ff0" stroke="#000" stroke-width="1.9" />
<rect x="1952.6" y="407.6" width="12.0" height="12.0" fill="#0f3ff0" stroke="#000" stroke-width="1.9" />
<rect x="1964.4" y="407.6" width="12.0" height="12.0" fill="#0f3ff0" stroke="#000" stroke-width="1.9" />
<rect x="1994.2" y="149.3" width="12.0" height="12.0" fill="#0f3ff0" stroke="#000" stroke-width="1.9" />
<rect x="2016.4" y="140.0" width="12.0" height="12.0" fill="#0f3ff0" stroke="#000" stroke-width="1.9" />
<rect x="2047.3" y="152.7" width="12.0" height="12.0" fill="#0f3ff0" stroke="#000" stroke-width="1.9" />
<rect x="2058.4" y="142.9" width="12.0" height="12.0" fill="#0f3ff0" stroke="#000" stroke-width="1.9" />
<rect x="2069.6" y="146.2" width="12.0" height="12.0" fill="#0f3ff0" stroke="#000" stroke-width="1.9" />
<rect x="2100.7" y="146.2" width="12.0" height="12.0" fill="#0f3ff0" stroke="#000" stroke-width="1.9" />
<rect x="2122.9" y="136.2" width="12.0" height="12.0" fill="#0f3ff0" stroke="#000" stroke-width="1.9" />
<path d="M1675.3 126.6 V445.2" stroke="#000" stroke-width="1.3" fill="none" />
<path d="M1661.0 445.2 H2153.5" stroke="#000" stroke-width="1.3" fill="none" />
<line x1="1661.0" y1="285.9" x2="1675.3" y2="285.9" stroke="#000" stroke-width="1.3" />
<line x1="1661.0" y1="126.6" x2="1675.3" y2="126.6" stroke="#000" stroke-width="1.3" />
<text x="1647.0" y="454.8" text-anchor="end">0</text>
<text x="1647.0" y="295.5" text-anchor="end">50</text>
<text x="1647.0" y="136.2" text-anchor="end">100</text>
<line x1="1916.4" y1="73.3" x2="1916.4" y2="446.5" stroke="#000" stroke-width="4.2" stroke-linecap="round" stroke-dasharray="0 12.4"/>
<path d="M1709.8 358.8 V63.7 H1817.6 V91.8" stroke="#000" stroke-width="1.3" fill="none" />
<path d="M1957.7 359.6 V63.7 H2064.8 V95.5" stroke="#000" stroke-width="1.3" fill="none" />
<text x="1697.4" y="47.9" textLength="138.6" lengthAdjust="spacingAndGlyphs"><tspan font-style="italic">P</tspan> = 0.0001</text>
<text x="1945.0" y="47.9" textLength="138.6" lengthAdjust="spacingAndGlyphs"><tspan font-style="italic">P</tspan> = 0.0001</text>
<text  text-anchor="end" textLength="94.5" lengthAdjust="spacingAndGlyphs" transform="translate(1717.3 473.0) rotate(-45)">Control</text>
<text  text-anchor="end" textLength="74.5" lengthAdjust="spacingAndGlyphs" transform="translate(1770.1 473.0) rotate(-45)">10 Gy</text>
<text  text-anchor="end" textLength="74.5" lengthAdjust="spacingAndGlyphs" transform="translate(1823.2 473.0) rotate(-45)">20 Gy</text>
<text  text-anchor="end" textLength="39.0" lengthAdjust="spacingAndGlyphs" transform="translate(1876.3 473.0) rotate(-45)">RS</text>
<text  text-anchor="end" textLength="94.5" lengthAdjust="spacingAndGlyphs" transform="translate(1965.3 473.0) rotate(-45)">Control</text>
<text  text-anchor="end" textLength="74.5" lengthAdjust="spacingAndGlyphs" transform="translate(2018.0 473.0) rotate(-45)">10 Gy</text>
<text  text-anchor="end" textLength="74.5" lengthAdjust="spacingAndGlyphs" transform="translate(2071.2 473.0) rotate(-45)">20 Gy</text>
<text  text-anchor="end" textLength="39.0" lengthAdjust="spacingAndGlyphs" transform="translate(2124.3 473.0) rotate(-45)">RS</text>
<text  text-anchor="middle" textLength="345.0" lengthAdjust="spacingAndGlyphs" transform="translate(1579.8 285.0) rotate(-90)">SA-β-gal-positive cells (%)</text>
<circle cx="1723.3" cy="580.5" r="6.1" fill="#00ee00" stroke="#000" stroke-width="1.9" />
<text x="1747.5" y="589.5" textLength="91.3" lengthAdjust="spacingAndGlyphs">Human</text>
<rect x="1872.8" y="574.0" width="13.0" height="13.0" fill="#0f3ff0" stroke="#000" stroke-width="1.9" />
<text x="1905.8" y="589.5" textLength="205.0" lengthAdjust="spacingAndGlyphs">Bowhead whale</text>
</g>
<g id="pe">
<text x="37.5" y="646.2" stroke="#000" stroke-width="0.8" stroke-linejoin="round" font-size="32.5" font-weight="bold">e</text>
<text x="224.5" y="714.7" text-anchor="middle" textLength="93.0" lengthAdjust="spacingAndGlyphs">Human</text>
<text x="526.0" y="714.7" text-anchor="middle" textLength="207.0" lengthAdjust="spacingAndGlyphs">Bowhead whale</text>
<text  text-anchor="middle" textLength="94.0" lengthAdjust="spacingAndGlyphs" transform="translate(57.3 832.2) rotate(-90)">Control</text>
<text  text-anchor="middle" textLength="145.4" lengthAdjust="spacingAndGlyphs" transform="translate(22.9 1046.5) rotate(-90)">Replicative</text>
<text  text-anchor="middle" textLength="153.2" lengthAdjust="spacingAndGlyphs" transform="translate(56.0 1047.8) rotate(-90)">senescence</text>
<text  text-anchor="middle" textLength="131.0" lengthAdjust="spacingAndGlyphs" transform="translate(22.9 1248.4) rotate(-90)">γ-induced</text>
<text  text-anchor="middle" textLength="153.2" lengthAdjust="spacingAndGlyphs" transform="translate(56.0 1250.4) rotate(-90)">senescence</text>
<rect x="72.8" y="731.9" width="303.0" height="201.7" fill="url(#eg00)" stroke="none" stroke-width="0" />
<rect x="72.8" y="731.9" width="303.0" height="201.7" fill="url(#eg00h)" stroke="none" stroke-width="0" />
<g clip-path="url(#eg00c)">
<path d="M160.0 759.8 Q171.1 762.1 181.8 764.8" stroke="#4f6650" stroke-width="0.7" fill="none" opacity="0.09"/>
<path d="M218.0 737.6 Q224.1 741.9 235.1 741.4" stroke="#4f6650" stroke-width="0.7" fill="none" opacity="0.26"/>
<path d="M121.1 775.1 Q110.8 776.5 99.6 778.7" stroke="#4f6650" stroke-width="0.7" fill="none" opacity="0.29"/>
<path d="M80.5 901.9 Q84.6 907.3 93.4 908.2" stroke="#4f6650" stroke-width="0.7" fill="none" opacity="0.26"/>
<path d="M123.3 839.1 Q127.8 848.9 131.9 859.4" stroke="#4f6650" stroke-width="0.5" fill="none" opacity="0.09"/>
<path d="M130.4 861.9 Q135.7 868.6 140.0 876.4" stroke="#4f6650" stroke-width="0.7" fill="none" opacity="0.15"/>
<path d="M315.0 866.4 Q313.6 872.7 311.9 879.4" stroke="#4f6650" stroke-width="0.9" fill="none" opacity="0.24"/>
<path d="M158.7 924.5 Q161.6 928.1 161.4 934.7" stroke="#4f6650" stroke-width="0.6" fill="none" opacity="0.19"/>
<path d="M87.5 854.6 Q86.9 864.4 81.9 878.8" stroke="#4f6650" stroke-width="0.7" fill="none" opacity="0.23"/>
<path d="M260.8 844.5 Q255.6 846.2 245.0 853.2" stroke="#4f6650" stroke-width="0.7" fill="none" opacity="0.23"/>
<path d="M102.3 873.1 Q93.1 871.5 80.1 873.6" stroke="#4f6650" stroke-width="0.6" fill="none" opacity="0.16"/>
<path d="M267.6 731.9 Q273.1 738.7 283.2 741.0" stroke="#4f6650" stroke-width="0.5" fill="none" opacity="0.25"/>
<path d="M119.6 778.6 Q109.5 784.4 104.4 785.1" stroke="#4f6650" stroke-width="0.7" fill="none" opacity="0.20"/>
<path d="M331.8 886.8 Q340.0 897.7 349.1 907.5" stroke="#4f6650" stroke-width="0.7" fill="none" opacity="0.27"/>
<path d="M358.6 758.4 Q361.4 763.9 367.4 766.3" stroke="#4f6650" stroke-width="0.7" fill="none" opacity="0.21"/>
<path d="M149.0 724.8 Q152.8 732.3 155.8 740.6" stroke="#4f6650" stroke-width="1.0" fill="none" opacity="0.23"/>
<path d="M217.7 854.5 Q231.4 854.1 240.3 858.4" stroke="#4f6650" stroke-width="0.9" fill="none" opacity="0.27"/>
<path d="M306.6 808.4 Q315.4 810.2 322.5 813.7" stroke="#4f6650" stroke-width="0.5" fill="none" opacity="0.09"/>
<path d="M128.4 763.4 Q133.1 767.6 143.7 765.9" stroke="#4f6650" stroke-width="0.6" fill="none" opacity="0.10"/>
<path d="M187.8 724.3 Q180.9 739.2 178.2 749.8" stroke="#4f6650" stroke-width="0.6" fill="none" opacity="0.16"/>
<path d="M196.5 756.4 Q182.9 756.9 169.8 757.0" stroke="#4f6650" stroke-width="0.7" fill="none" opacity="0.10"/>
<path d="M109.7 797.5 Q101.7 803.0 97.8 804.5" stroke="#4f6650" stroke-width="0.5" fill="none" opacity="0.29"/>
<path d="M222.9 760.6 Q233.0 761.3 242.8 762.3" stroke="#4f6650" stroke-width="1.0" fill="none" opacity="0.27"/>
<path d="M276.8 780.5 Q285.4 782.9 290.7 788.6" stroke="#4f6650" stroke-width="0.8" fill="none" opacity="0.25"/>
<path d="M185.6 776.3 Q174.8 774.8 159.8 777.5" stroke="#4f6650" stroke-width="0.9" fill="none" opacity="0.26"/>
<path d="M292.7 768.9 Q294.2 780.5 301.2 786.3" stroke="#4f6650" stroke-width="0.5" fill="none" opacity="0.14"/>
<path d="M148.9 857.3 Q154.0 869.0 153.7 885.9" stroke="#4f6650" stroke-width="1.0" fill="none" opacity="0.29"/>
<path d="M178.0 772.6 Q181.5 778.1 188.6 780.1" stroke="#4f6650" stroke-width="0.8" fill="none" opacity="0.28"/>
<path d="M336.5 822.0 Q325.0 831.1 318.4 835.2" stroke="#4f6650" stroke-width="0.8" fill="none" opacity="0.28"/>
<path d="M302.0 878.3 Q311.6 881.5 317.7 888.1" stroke="#4f6650" stroke-width="0.7" fill="none" opacity="0.26"/>
<path d="M375.5 810.3 Q368.6 810.4 358.9 813.1" stroke="#4f6650" stroke-width="0.6" fill="none" opacity="0.11"/>
<path d="M107.1 908.7 Q120.6 912.4 130.1 920.1" stroke="#4f6650" stroke-width="1.0" fill="none" opacity="0.22"/>
<path d="M173.5 842.3 Q181.8 839.7 184.4 842.8" stroke="#4f6650" stroke-width="0.8" fill="none" opacity="0.20"/>
<path d="M367.3 812.3 Q354.0 821.1 344.1 826.5" stroke="#4f6650" stroke-width="0.6" fill="none" opacity="0.14"/>
<path d="M144.0 843.6 Q143.5 852.4 147.4 856.8" stroke="#4f6650" stroke-width="1.0" fill="none" opacity="0.16"/>
<path d="M208.2 836.0 Q214.1 847.1 215.1 863.1" stroke="#4f6650" stroke-width="0.8" fill="none" opacity="0.20"/>
<path d="M224.0 730.9 Q228.4 738.6 238.8 740.5" stroke="#4f6650" stroke-width="0.9" fill="none" opacity="0.12"/>
<path d="M211.0 869.5 Q216.4 878.1 221.5 886.8" stroke="#4f6650" stroke-width="0.8" fill="none" opacity="0.25"/>
<path d="M100.6 839.8 Q106.6 843.3 109.3 850.1" stroke="#4f6650" stroke-width="0.8" fill="none" opacity="0.20"/>
<path d="M306.2 907.6 Q303.1 915.9 300.0 924.3" stroke="#4f6650" stroke-width="0.8" fill="none" opacity="0.23"/>
<path d="M219.0 837.8 Q211.1 838.3 200.8 841.2" stroke="#4f6650" stroke-width="0.9" fill="none" opacity="0.29"/>
<path d="M164.1 837.8 Q149.3 846.9 138.9 851.7" stroke="#4f6650" stroke-width="0.6" fill="none" opacity="0.18"/>
<path d="M97.2 776.3 Q96.5 778.7 92.3 784.6" stroke="#4f6650" stroke-width="0.9" fill="none" opacity="0.11"/>
<path d="M295.0 863.1 Q292.6 862.3 284.6 867.1" stroke="#4f6650" stroke-width="0.6" fill="none" opacity="0.29"/>
<path d="M206.3 822.7 Q191.4 832.2 180.6 837.7" stroke="#4f6650" stroke-width="0.7" fill="none" opacity="0.19"/>
<path d="M180.4 765.6 Q172.7 774.3 170.7 777.1" stroke="#4f6650" stroke-width="0.8" fill="none" opacity="0.18"/>
<path d="M78.7 787.9 Q75.7 801.4 77.9 809.6" stroke="#4f6650" stroke-width="1.0" fill="none" opacity="0.25"/>
<path d="M360.4 752.2 Q368.9 751.4 374.1 753.9" stroke="#4f6650" stroke-width="0.6" fill="none" opacity="0.11"/>
<path d="M191.8 906.3 Q198.6 917.8 209.7 925.2" stroke="#4f6650" stroke-width="1.0" fill="none" opacity="0.21"/>
<path d="M287.6 746.1 Q284.6 750.4 282.4 753.8" stroke="#4f6650" stroke-width="0.5" fill="none" opacity="0.29"/>
<path d="M269.5 891.4 Q262.4 896.2 260.6 895.7" stroke="#4f6650" stroke-width="0.9" fill="none" opacity="0.18"/>
<path d="M166.1 832.9 Q173.3 845.7 185.0 854.0" stroke="#4f6650" stroke-width="0.8" fill="none" opacity="0.13"/>
<path d="M102.3 761.8 Q104.8 765.6 109.6 767.2" stroke="#4f6650" stroke-width="0.7" fill="none" opacity="0.25"/>
<path d="M157.9 827.5 Q157.8 835.7 163.4 838.0" stroke="#4f6650" stroke-width="0.6" fill="none" opacity="0.08"/>
<path d="M294.4 837.0 Q297.5 840.4 295.4 849.1" stroke="#4f6650" stroke-width="0.6" fill="none" opacity="0.26"/>
<path d="M199.4 819.3 Q203.8 831.7 208.1 844.2" stroke="#4f6650" stroke-width="0.8" fill="none" opacity="0.30"/>
<path d="M181.5 889.1 Q176.1 900.3 171.8 910.5" stroke="#4f6650" stroke-width="0.7" fill="none" opacity="0.09"/>
<path d="M103.7 737.4 Q110.1 748.2 120.6 754.9" stroke="#4f6650" stroke-width="0.5" fill="none" opacity="0.27"/>
<path d="M331.4 862.3 Q335.3 868.4 341.7 872.0" stroke="#4f6650" stroke-width="0.7" fill="none" opacity="0.11"/>
<path d="M222.4 783.7 Q208.2 784.7 193.4 786.2" stroke="#4f6650" stroke-width="0.6" fill="none" opacity="0.29"/>
<path d="M165.1 800.1 Q166.4 804.0 168.1 807.6" stroke="#4f6650" stroke-width="0.8" fill="none" opacity="0.12"/>
<path d="M219.1 731.0 Q225.1 733.5 232.4 734.8" stroke="#4f6650" stroke-width="0.5" fill="none" opacity="0.08"/>
<path d="M165.9 768.5 Q166.5 777.4 164.0 789.3" stroke="#4f6650" stroke-width="0.8" fill="none" opacity="0.24"/>
<path d="M346.7 810.1 Q337.1 812.6 331.6 810.8" stroke="#4f6650" stroke-width="0.9" fill="none" opacity="0.22"/>
<path d="M91.4 887.7 Q87.5 899.0 80.7 913.1" stroke="#4f6650" stroke-width="0.9" fill="none" opacity="0.11"/>
<path d="M242.3 826.0 Q233.5 831.7 220.7 841.2" stroke="#4f6650" stroke-width="0.8" fill="none" opacity="0.28"/>
<path d="M273.2 871.1 Q277.5 873.9 286.2 872.4" stroke="#4f6650" stroke-width="0.7" fill="none" opacity="0.10"/>
<path d="M330.3 834.5 Q327.1 843.5 321.8 854.6" stroke="#4f6650" stroke-width="0.7" fill="none" opacity="0.08"/>
<path d="M315.6 873.4 Q315.5 881.9 313.5 892.3" stroke="#4f6650" stroke-width="0.5" fill="none" opacity="0.24"/>
<path d="M153.8 741.7 Q147.4 748.7 144.6 752.1" stroke="#4f6650" stroke-width="0.9" fill="none" opacity="0.29"/>
<circle cx="222.5" cy="809.1" r="1.1" fill="#3d4a35" stroke="none" stroke-width="0" opacity="0.6"/>
<circle cx="217.9" cy="869.8" r="1.1" fill="#3d4a35" stroke="none" stroke-width="0" opacity="0.6"/>
<circle cx="305.2" cy="856.3" r="1.1" fill="#3d4a35" stroke="none" stroke-width="0" opacity="0.6"/>
<circle cx="267.6" cy="747.5" r="1.1" fill="#3d4a35" stroke="none" stroke-width="0" opacity="0.6"/>
<circle cx="117.5" cy="783.1" r="1.1" fill="#3d4a35" stroke="none" stroke-width="0" opacity="0.6"/>
<circle cx="298.0" cy="793.3" r="1.1" fill="#3d4a35" stroke="none" stroke-width="0" opacity="0.6"/>
<circle cx="244.8" cy="734.4" r="1.1" fill="#3d4a35" stroke="none" stroke-width="0" opacity="0.6"/>
<circle cx="91.2" cy="786.1" r="1.1" fill="#3d4a35" stroke="none" stroke-width="0" opacity="0.6"/>
</g>
<rect x="351.2" y="924.9" width="19.0" height="4.8" fill="#000" stroke="none" stroke-width="0" />
<rect x="384.0" y="731.9" width="302.8" height="201.7" fill="url(#eg01)" stroke="none" stroke-width="0" />
<rect x="384.0" y="731.9" width="302.8" height="201.7" fill="url(#eg01h)" stroke="none" stroke-width="0" />
<g clip-path="url(#eg01c)">
<path d="M580.5 862.5 Q587.6 871.4 594.5 880.6" stroke="#4f6650" stroke-width="0.7" fill="none" opacity="0.18"/>
<path d="M426.1 911.7 Q422.5 909.5 413.7 912.6" stroke="#4f6650" stroke-width="0.5" fill="none" opacity="0.18"/>
<path d="M626.3 920.5 Q630.5 928.9 638.2 933.9" stroke="#4f6650" stroke-width="1.0" fill="none" opacity="0.13"/>
<path d="M569.7 759.0 Q557.9 762.7 550.4 761.9" stroke="#4f6650" stroke-width="0.9" fill="none" opacity="0.19"/>
<path d="M658.8 871.7 Q652.5 873.8 646.3 875.8" stroke="#4f6650" stroke-width="0.5" fill="none" opacity="0.08"/>
<path d="M526.3 819.7 Q531.9 823.8 539.5 826.0" stroke="#4f6650" stroke-width="0.7" fill="none" opacity="0.26"/>
<path d="M372.2 878.5 Q387.1 880.8 396.8 888.2" stroke="#4f6650" stroke-width="0.9" fill="none" opacity="0.28"/>
<path d="M480.1 806.9 Q472.3 806.4 463.4 807.0" stroke="#4f6650" stroke-width="0.7" fill="none" opacity="0.17"/>
<path d="M471.8 739.1 Q466.0 742.9 462.9 744.2" stroke="#4f6650" stroke-width="1.0" fill="none" opacity="0.13"/>
<path d="M462.1 829.3 Q467.2 832.2 466.8 840.6" stroke="#4f6650" stroke-width="0.9" fill="none" opacity="0.26"/>
<path d="M577.2 902.0 Q576.4 914.8 572.8 930.3" stroke="#4f6650" stroke-width="0.5" fill="none" opacity="0.24"/>
<path d="M513.6 875.0 Q517.8 886.4 527.4 892.4" stroke="#4f6650" stroke-width="1.0" fill="none" opacity="0.11"/>
<path d="M531.9 795.9 Q529.8 798.4 522.0 806.5" stroke="#4f6650" stroke-width="0.6" fill="none" opacity="0.22"/>
<path d="M467.9 840.1 Q473.1 846.3 482.3 848.5" stroke="#4f6650" stroke-width="0.6" fill="none" opacity="0.28"/>
<path d="M548.5 776.1 Q534.2 776.6 520.5 776.4" stroke="#4f6650" stroke-width="0.6" fill="none" opacity="0.12"/>
<path d="M407.8 797.5 Q410.0 802.3 415.1 804.3" stroke="#4f6650" stroke-width="0.8" fill="none" opacity="0.28"/>
<path d="M611.6 806.6 Q610.3 815.9 610.3 823.7" stroke="#4f6650" stroke-width="0.7" fill="none" opacity="0.09"/>
<path d="M468.1 921.7 Q468.8 926.3 468.0 932.5" stroke="#4f6650" stroke-width="0.9" fill="none" opacity="0.13"/>
<path d="M464.6 773.7 Q468.8 779.3 467.5 790.3" stroke="#4f6650" stroke-width="0.9" fill="none" opacity="0.27"/>
<path d="M401.8 734.6 Q390.4 738.6 379.4 742.2" stroke="#4f6650" stroke-width="0.8" fill="none" opacity="0.08"/>
<path d="M514.3 913.1 Q505.4 916.0 490.8 924.6" stroke="#4f6650" stroke-width="0.6" fill="none" opacity="0.10"/>
<path d="M442.1 835.2 Q432.1 835.9 419.4 839.4" stroke="#4f6650" stroke-width="0.8" fill="none" opacity="0.25"/>
<path d="M525.9 840.3 Q520.9 844.7 519.0 845.9" stroke="#4f6650" stroke-width="1.0" fill="none" opacity="0.22"/>
<path d="M478.8 751.6 Q477.2 756.5 473.2 763.9" stroke="#4f6650" stroke-width="0.6" fill="none" opacity="0.10"/>
<path d="M536.5 844.1 Q543.4 848.9 549.1 854.8" stroke="#4f6650" stroke-width="0.5" fill="none" opacity="0.15"/>
<path d="M533.9 921.4 Q523.3 925.5 513.1 929.3" stroke="#4f6650" stroke-width="0.6" fill="none" opacity="0.13"/>
<path d="M667.5 873.5 Q674.9 874.0 682.2 874.5" stroke="#4f6650" stroke-width="0.8" fill="none" opacity="0.17"/>
<path d="M451.2 857.2 Q459.1 869.3 472.6 875.8" stroke="#4f6650" stroke-width="0.7" fill="none" opacity="0.17"/>
<path d="M599.4 762.5 Q590.7 771.8 582.0 781.2" stroke="#4f6650" stroke-width="0.6" fill="none" opacity="0.29"/>
<path d="M473.4 893.1 Q480.0 895.7 483.4 901.5" stroke="#4f6650" stroke-width="0.6" fill="none" opacity="0.29"/>
<path d="M532.5 763.4 Q535.1 768.7 535.8 775.9" stroke="#4f6650" stroke-width="1.0" fill="none" opacity="0.11"/>
<path d="M489.9 768.5 Q500.5 777.5 516.4 781.2" stroke="#4f6650" stroke-width="0.5" fill="none" opacity="0.17"/>
<path d="M668.0 910.0 Q658.6 907.5 643.9 910.2" stroke="#4f6650" stroke-width="0.7" fill="none" opacity="0.12"/>
<path d="M669.5 878.6 Q666.7 883.2 665.2 886.2" stroke="#4f6650" stroke-width="0.7" fill="none" opacity="0.15"/>
<path d="M432.1 726.2 Q438.0 729.7 438.4 738.8" stroke="#4f6650" stroke-width="0.6" fill="none" opacity="0.29"/>
<path d="M457.9 796.9 Q446.4 804.2 435.7 810.7" stroke="#4f6650" stroke-width="0.5" fill="none" opacity="0.18"/>
<path d="M494.3 911.8 Q499.2 915.0 499.4 922.9" stroke="#4f6650" stroke-width="0.5" fill="none" opacity="0.17"/>
<path d="M625.4 886.1 Q627.2 889.2 634.2 887.0" stroke="#4f6650" stroke-width="1.0" fill="none" opacity="0.14"/>
<path d="M605.2 907.3 Q613.0 910.4 615.3 919.0" stroke="#4f6650" stroke-width="0.8" fill="none" opacity="0.14"/>
<path d="M594.0 795.7 Q602.5 794.2 608.0 795.8" stroke="#4f6650" stroke-width="1.0" fill="none" opacity="0.22"/>
<path d="M669.1 730.2 Q672.4 734.1 670.1 743.3" stroke="#4f6650" stroke-width="1.0" fill="none" opacity="0.17"/>
<path d="M469.2 816.5 Q458.1 820.5 450.8 820.7" stroke="#4f6650" stroke-width="0.9" fill="none" opacity="0.24"/>
<path d="M627.6 878.6 Q632.0 888.9 638.6 896.9" stroke="#4f6650" stroke-width="0.7" fill="none" opacity="0.25"/>
<path d="M399.2 763.1 Q405.3 774.3 416.7 780.3" stroke="#4f6650" stroke-width="0.5" fill="none" opacity="0.20"/>
<path d="M496.3 929.1 Q481.2 931.0 468.9 930.1" stroke="#4f6650" stroke-width="0.5" fill="none" opacity="0.10"/>
<path d="M528.3 869.1 Q534.4 875.6 541.5 881.0" stroke="#4f6650" stroke-width="0.8" fill="none" opacity="0.23"/>
<path d="M600.0 898.5 Q612.5 900.7 621.0 906.9" stroke="#4f6650" stroke-width="0.6" fill="none" opacity="0.20"/>
<path d="M492.5 876.4 Q495.4 882.3 501.3 885.1" stroke="#4f6650" stroke-width="0.6" fill="none" opacity="0.27"/>
<path d="M567.5 797.5 Q559.1 797.7 550.7 797.9" stroke="#4f6650" stroke-width="0.6" fill="none" opacity="0.26"/>
<path d="M581.4 926.7 Q583.7 929.9 582.2 936.9" stroke="#4f6650" stroke-width="0.9" fill="none" opacity="0.28"/>
<path d="M391.8 788.2 Q399.1 788.3 400.6 794.1" stroke="#4f6650" stroke-width="0.8" fill="none" opacity="0.28"/>
<path d="M490.6 900.1 Q498.4 904.9 502.8 913.1" stroke="#4f6650" stroke-width="1.0" fill="none" opacity="0.10"/>
<path d="M562.0 851.1 Q562.4 859.1 567.1 862.8" stroke="#4f6650" stroke-width="0.6" fill="none" opacity="0.14"/>
<path d="M559.3 863.1 Q564.5 864.4 571.7 863.6" stroke="#4f6650" stroke-width="0.8" fill="none" opacity="0.12"/>
<path d="M480.4 760.3 Q475.9 775.5 476.6 785.5" stroke="#4f6650" stroke-width="0.6" fill="none" opacity="0.17"/>
<path d="M546.2 858.4 Q551.8 859.7 554.9 863.3" stroke="#4f6650" stroke-width="0.7" fill="none" opacity="0.14"/>
<path d="M478.7 916.9 Q476.3 925.0 475.6 931.4" stroke="#4f6650" stroke-width="0.7" fill="none" opacity="0.27"/>
<path d="M689.8 800.6 Q684.0 807.1 681.7 809.9" stroke="#4f6650" stroke-width="0.5" fill="none" opacity="0.28"/>
<path d="M520.2 894.3 Q512.1 897.6 504.4 900.4" stroke="#4f6650" stroke-width="0.6" fill="none" opacity="0.08"/>
<path d="M537.5 857.3 Q551.7 860.4 564.5 865.0" stroke="#4f6650" stroke-width="0.7" fill="none" opacity="0.19"/>
<path d="M437.6 786.8 Q425.8 791.4 418.7 791.3" stroke="#4f6650" stroke-width="0.7" fill="none" opacity="0.26"/>
<path d="M682.1 770.7 Q679.6 768.9 671.5 772.7" stroke="#4f6650" stroke-width="0.7" fill="none" opacity="0.09"/>
<path d="M669.6 797.2 Q666.4 808.2 659.3 823.1" stroke="#4f6650" stroke-width="0.6" fill="none" opacity="0.25"/>
<path d="M462.7 806.7 Q449.3 815.4 439.8 820.3" stroke="#4f6650" stroke-width="0.6" fill="none" opacity="0.17"/>
<path d="M537.0 805.5 Q542.2 807.9 544.6 813.0" stroke="#4f6650" stroke-width="0.9" fill="none" opacity="0.09"/>
<path d="M558.1 882.5 Q552.0 887.0 550.4 886.8" stroke="#4f6650" stroke-width="0.8" fill="none" opacity="0.20"/>
<path d="M576.1 785.3 Q573.4 794.1 571.7 802.0" stroke="#4f6650" stroke-width="0.8" fill="none" opacity="0.18"/>
<path d="M516.4 725.8 Q515.1 738.2 517.1 747.4" stroke="#4f6650" stroke-width="0.9" fill="none" opacity="0.25"/>
<path d="M514.1 765.1 Q520.5 770.3 531.5 771.2" stroke="#4f6650" stroke-width="0.7" fill="none" opacity="0.10"/>
<path d="M519.7 830.8 Q515.3 837.3 516.0 838.8" stroke="#4f6650" stroke-width="0.9" fill="none" opacity="0.25"/>
<circle cx="538.9" cy="742.8" r="1.1" fill="#3d4a35" stroke="none" stroke-width="0" opacity="0.6"/>
<circle cx="536.6" cy="808.1" r="1.1" fill="#3d4a35" stroke="none" stroke-width="0" opacity="0.6"/>
<circle cx="671.9" cy="759.4" r="1.1" fill="#3d4a35" stroke="none" stroke-width="0" opacity="0.6"/>
</g>
<rect x="662.2" y="924.9" width="19.0" height="4.8" fill="#000" stroke="none" stroke-width="0" />
<rect x="72.8" y="946.0" width="303.0" height="200.6" fill="url(#eg10)" stroke="none" stroke-width="0" />
<rect x="72.8" y="946.0" width="303.0" height="200.6" fill="url(#eg10h)" stroke="none" stroke-width="0" />
<g clip-path="url(#eg10c)">
</g>
<rect x="351.2" y="1137.9" width="19.0" height="4.8" fill="#000" stroke="none" stroke-width="0" />
<rect x="384.0" y="946.0" width="302.8" height="200.6" fill="url(#eg11)" stroke="none" stroke-width="0" />
<rect x="384.0" y="946.0" width="302.8" height="200.6" fill="url(#eg11h)" stroke="none" stroke-width="0" />
<g clip-path="url(#eg11c)">
</g>
<rect x="662.2" y="1137.9" width="19.0" height="4.8" fill="#000" stroke="none" stroke-width="0" />
<rect x="72.8" y="1157.2" width="303.0" height="201.4" fill="url(#eg20)" stroke="none" stroke-width="0" />
<rect x="72.8" y="1157.2" width="303.0" height="201.4" fill="url(#eg20h)" stroke="none" stroke-width="0" />
<g clip-path="url(#eg20c)">
</g>
<rect x="351.2" y="1349.9" width="19.0" height="4.8" fill="#000" stroke="none" stroke-width="0" />
<rect x="384.0" y="1157.2" width="302.8" height="201.4" fill="url(#eg21)" stroke="none" stroke-width="0" />
<rect x="384.0" y="1157.2" width="302.8" height="201.4" fill="url(#eg21h)" stroke="none" stroke-width="0" />
<g clip-path="url(#eg21c)">
</g>
<rect x="662.2" y="1349.9" width="19.0" height="4.8" fill="#000" stroke="none" stroke-width="0" />
<g filter="url(#tealf)">
<ellipse cx="324.0" cy="803.0" rx="4.5" ry="5.0" fill="#2aae9f" opacity="0.31" transform="rotate(0 324.0 803.0)"/>
<ellipse cx="324.5" cy="803.5" rx="2.0" ry="2.2" fill="#159a90" opacity="0.23" transform="rotate(0 324.0 803.0)"/>
<ellipse cx="134.1" cy="982.2" rx="5.0" ry="11.0" fill="#2aae9f" opacity="0.53" transform="rotate(-20 134.1 982.2)"/>
<ellipse cx="134.6" cy="982.7" rx="2.2" ry="5.0" fill="#159a90" opacity="0.38" transform="rotate(-20 134.1 982.2)"/>
<ellipse cx="137.6" cy="988.1" rx="4.0" ry="6.0" fill="#2aae9f" opacity="0.50" transform="rotate(0 137.6 988.1)"/>
<ellipse cx="138.1" cy="988.6" rx="1.8" ry="2.7" fill="#159a90" opacity="0.36" transform="rotate(0 137.6 988.1)"/>
<ellipse cx="311.9" cy="963.0" rx="5.0" ry="8.0" fill="#2aae9f" opacity="0.53" transform="rotate(-30 311.9 963.0)"/>
<ellipse cx="312.4" cy="963.5" rx="2.2" ry="3.6" fill="#159a90" opacity="0.38" transform="rotate(-30 311.9 963.0)"/>
<ellipse cx="100.0" cy="1005.9" rx="4.0" ry="7.0" fill="#2aae9f" opacity="0.37" transform="rotate(0 100.0 1005.9)"/>
<ellipse cx="100.5" cy="1006.4" rx="1.8" ry="3.1" fill="#159a90" opacity="0.27" transform="rotate(0 100.0 1005.9)"/>
<ellipse cx="197.8" cy="979.3" rx="8.0" ry="7.0" fill="#2aae9f" opacity="0.19" transform="rotate(0 197.8 979.3)"/>
<ellipse cx="198.3" cy="979.8" rx="3.6" ry="3.1" fill="#159a90" opacity="0.14" transform="rotate(0 197.8 979.3)"/>
<ellipse cx="280.7" cy="991.1" rx="5.0" ry="9.0" fill="#2aae9f" opacity="0.22" transform="rotate(30 280.7 991.1)"/>
<ellipse cx="281.2" cy="991.6" rx="2.2" ry="4.0" fill="#159a90" opacity="0.16" transform="rotate(30 280.7 991.1)"/>
<ellipse cx="242.2" cy="1023.7" rx="8.0" ry="5.0" fill="#2aae9f" opacity="0.53" transform="rotate(10 242.2 1023.7)"/>
<ellipse cx="242.7" cy="1024.2" rx="3.6" ry="2.2" fill="#159a90" opacity="0.38" transform="rotate(10 242.2 1023.7)"/>
<ellipse cx="237.8" cy="1011.9" rx="3.0" ry="4.0" fill="#2aae9f" opacity="0.37" transform="rotate(0 237.8 1011.9)"/>
<ellipse cx="238.3" cy="1012.4" rx="1.4" ry="1.8" fill="#159a90" opacity="0.27" transform="rotate(0 237.8 1011.9)"/>
<ellipse cx="279.9" cy="1038.5" rx="6.0" ry="4.0" fill="#2aae9f" opacity="0.43" transform="rotate(-20 279.9 1038.5)"/>
<ellipse cx="280.4" cy="1039.0" rx="2.7" ry="1.8" fill="#159a90" opacity="0.32" transform="rotate(-20 279.9 1038.5)"/>
<ellipse cx="152.4" cy="1045.3" rx="8.0" ry="4.5" fill="#2aae9f" opacity="0.46" transform="rotate(-15 152.4 1045.3)"/>
<ellipse cx="152.9" cy="1045.8" rx="3.6" ry="2.0" fill="#159a90" opacity="0.34" transform="rotate(-15 152.4 1045.3)"/>
<ellipse cx="93.2" cy="1054.8" rx="5.0" ry="7.0" fill="#2aae9f" opacity="0.53" transform="rotate(10 93.2 1054.8)"/>
<ellipse cx="93.7" cy="1055.3" rx="2.2" ry="3.1" fill="#159a90" opacity="0.38" transform="rotate(10 93.2 1054.8)"/>
<ellipse cx="235.4" cy="1078.5" rx="5.0" ry="8.0" fill="#2aae9f" opacity="0.40" transform="rotate(10 235.4 1078.5)"/>
<ellipse cx="235.9" cy="1079.0" rx="2.2" ry="3.6" fill="#159a90" opacity="0.29" transform="rotate(10 235.4 1078.5)"/>
<ellipse cx="196.9" cy="1102.2" rx="7.0" ry="6.0" fill="#2aae9f" opacity="0.53" transform="rotate(0 196.9 1102.2)"/>
<ellipse cx="197.4" cy="1102.7" rx="3.1" ry="2.7" fill="#159a90" opacity="0.38" transform="rotate(0 196.9 1102.2)"/>
<ellipse cx="224.7" cy="1100.7" rx="5.0" ry="7.0" fill="#2aae9f" opacity="0.37" transform="rotate(0 224.7 1100.7)"/>
<ellipse cx="225.2" cy="1101.2" rx="2.2" ry="3.1" fill="#159a90" opacity="0.27" transform="rotate(0 224.7 1100.7)"/>
<ellipse cx="371.1" cy="1048.9" rx="3.0" ry="5.0" fill="#2aae9f" opacity="0.31" transform="rotate(0 371.1 1048.9)"/>
<ellipse cx="371.6" cy="1049.4" rx="1.4" ry="2.2" fill="#159a90" opacity="0.23" transform="rotate(0 371.1 1048.9)"/>
<ellipse cx="154.8" cy="994.1" rx="6.0" ry="5.0" fill="#2aae9f" opacity="0.12" transform="rotate(0 154.8 994.1)"/>
<ellipse cx="155.3" cy="994.6" rx="2.7" ry="2.2" fill="#159a90" opacity="0.09" transform="rotate(0 154.8 994.1)"/>
<ellipse cx="163.7" cy="948.7" rx="5.0" ry="3.0" fill="#2aae9f" opacity="0.19" transform="rotate(0 163.7 948.7)"/>
<ellipse cx="164.2" cy="949.2" rx="2.2" ry="1.4" fill="#159a90" opacity="0.14" transform="rotate(0 163.7 948.7)"/>
<ellipse cx="529.6" cy="997.9" rx="4.0" ry="3.5" fill="#2aae9f" opacity="0.46" transform="rotate(0 529.6 997.9)"/>
<ellipse cx="530.1" cy="998.4" rx="1.8" ry="1.6" fill="#159a90" opacity="0.34" transform="rotate(0 529.6 997.9)"/>
<ellipse cx="533.2" cy="1011.9" rx="2.0" ry="4.0" fill="#2aae9f" opacity="0.28" transform="rotate(20 533.2 1011.9)"/>
<ellipse cx="533.7" cy="1012.4" rx="0.9" ry="1.8" fill="#159a90" opacity="0.20" transform="rotate(20 533.2 1011.9)"/>
<ellipse cx="552.7" cy="1103.7" rx="3.0" ry="5.0" fill="#2aae9f" opacity="0.31" transform="rotate(-30 552.7 1103.7)"/>
<ellipse cx="553.2" cy="1104.2" rx="1.4" ry="2.2" fill="#159a90" opacity="0.23" transform="rotate(-30 552.7 1103.7)"/>
<ellipse cx="556.3" cy="1120.6" rx="2.5" ry="4.0" fill="#2aae9f" opacity="0.31" transform="rotate(0 556.3 1120.6)"/>
<ellipse cx="556.8" cy="1121.1" rx="1.1" ry="1.8" fill="#159a90" opacity="0.23" transform="rotate(0 556.3 1120.6)"/>
<ellipse cx="596.3" cy="986.7" rx="8.0" ry="10.0" fill="#2aae9f" opacity="0.07" transform="rotate(0 596.3 986.7)"/>
<ellipse cx="596.8" cy="987.2" rx="3.6" ry="4.5" fill="#159a90" opacity="0.05" transform="rotate(0 596.3 986.7)"/>
<ellipse cx="577.0" cy="1051.9" rx="6.0" ry="14.0" fill="#2aae9f" opacity="0.07" transform="rotate(0 577.0 1051.9)"/>
<ellipse cx="577.5" cy="1052.4" rx="2.7" ry="6.3" fill="#159a90" opacity="0.05" transform="rotate(0 577.0 1051.9)"/>
<ellipse cx="422.1" cy="1082.1" rx="2.5" ry="5.0" fill="#2aae9f" opacity="0.25" transform="rotate(30 422.1 1082.1)"/>
<ellipse cx="422.6" cy="1082.6" rx="1.1" ry="2.2" fill="#159a90" opacity="0.18" transform="rotate(30 422.1 1082.1)"/>
<ellipse cx="174.1" cy="1210.5" rx="5.0" ry="2.5" fill="#2aae9f" opacity="0.43" transform="rotate(0 174.1 1210.5)"/>
<ellipse cx="174.6" cy="1211.0" rx="2.2" ry="1.1" fill="#159a90" opacity="0.32" transform="rotate(0 174.1 1210.5)"/>
<ellipse cx="174.1" cy="1218.8" rx="5.0" ry="2.5" fill="#2aae9f" opacity="0.43" transform="rotate(0 174.1 1218.8)"/>
<ellipse cx="174.6" cy="1219.3" rx="2.2" ry="1.1" fill="#159a90" opacity="0.32" transform="rotate(0 174.1 1218.8)"/>
<ellipse cx="114.8" cy="1210.5" rx="7.0" ry="3.5" fill="#2aae9f" opacity="0.25" transform="rotate(-20 114.8 1210.5)"/>
<ellipse cx="115.3" cy="1211.0" rx="3.1" ry="1.6" fill="#159a90" opacity="0.18" transform="rotate(-20 114.8 1210.5)"/>
<ellipse cx="234.2" cy="1191.9" rx="3.0" ry="3.0" fill="#2aae9f" opacity="0.28" transform="rotate(0 234.2 1191.9)"/>
<ellipse cx="234.7" cy="1192.4" rx="1.4" ry="1.4" fill="#159a90" opacity="0.20" transform="rotate(0 234.2 1191.9)"/>
<ellipse cx="260.0" cy="1194.8" rx="3.0" ry="7.0" fill="#2aae9f" opacity="0.25" transform="rotate(30 260.0 1194.8)"/>
<ellipse cx="260.5" cy="1195.3" rx="1.4" ry="3.1" fill="#159a90" opacity="0.18" transform="rotate(30 260.0 1194.8)"/>
<ellipse cx="259.1" cy="1236.3" rx="8.0" ry="4.0" fill="#2aae9f" opacity="0.43" transform="rotate(0 259.1 1236.3)"/>
<ellipse cx="259.6" cy="1236.8" rx="3.6" ry="1.8" fill="#159a90" opacity="0.32" transform="rotate(0 259.1 1236.3)"/>
<ellipse cx="333.2" cy="1256.4" rx="4.5" ry="4.0" fill="#2aae9f" opacity="0.53" transform="rotate(0 333.2 1256.4)"/>
<ellipse cx="333.7" cy="1256.9" rx="2.0" ry="1.8" fill="#159a90" opacity="0.38" transform="rotate(0 333.2 1256.4)"/>
<ellipse cx="196.9" cy="1268.0" rx="5.0" ry="6.0" fill="#2aae9f" opacity="0.37" transform="rotate(20 196.9 1268.0)"/>
<ellipse cx="197.4" cy="1268.5" rx="2.2" ry="2.7" fill="#159a90" opacity="0.27" transform="rotate(20 196.9 1268.0)"/>
<ellipse cx="224.7" cy="1279.9" rx="6.0" ry="4.5" fill="#2aae9f" opacity="0.37" transform="rotate(-20 224.7 1279.9)"/>
<ellipse cx="225.2" cy="1280.4" rx="2.7" ry="2.0" fill="#159a90" opacity="0.27" transform="rotate(-20 224.7 1279.9)"/>
<ellipse cx="148.9" cy="1254.1" rx="10.0" ry="4.0" fill="#2aae9f" opacity="0.22" transform="rotate(-30 148.9 1254.1)"/>
<ellipse cx="149.4" cy="1254.6" rx="4.5" ry="1.8" fill="#159a90" opacity="0.16" transform="rotate(-30 148.9 1254.1)"/>
<ellipse cx="279.3" cy="1312.7" rx="4.0" ry="3.0" fill="#2aae9f" opacity="0.34" transform="rotate(0 279.3 1312.7)"/>
<ellipse cx="279.8" cy="1313.2" rx="1.8" ry="1.4" fill="#159a90" opacity="0.25" transform="rotate(0 279.3 1312.7)"/>
<ellipse cx="305.9" cy="1317.8" rx="4.0" ry="3.0" fill="#2aae9f" opacity="0.43" transform="rotate(-30 305.9 1317.8)"/>
<ellipse cx="306.4" cy="1318.3" rx="1.8" ry="1.4" fill="#159a90" opacity="0.32" transform="rotate(-30 305.9 1317.8)"/>
<ellipse cx="123.7" cy="1347.4" rx="3.5" ry="4.0" fill="#2aae9f" opacity="0.31" transform="rotate(0 123.7 1347.4)"/>
<ellipse cx="124.2" cy="1347.9" rx="1.6" ry="1.8" fill="#159a90" opacity="0.23" transform="rotate(0 123.7 1347.4)"/>
<ellipse cx="87.3" cy="1303.9" rx="5.0" ry="3.0" fill="#2aae9f" opacity="0.25" transform="rotate(20 87.3 1303.9)"/>
<ellipse cx="87.8" cy="1304.4" rx="2.2" ry="1.4" fill="#159a90" opacity="0.18" transform="rotate(20 87.3 1303.9)"/>
<ellipse cx="314.8" cy="1223.0" rx="5.0" ry="4.0" fill="#2aae9f" opacity="0.15" transform="rotate(0 314.8 1223.0)"/>
<ellipse cx="315.3" cy="1223.5" rx="2.2" ry="1.8" fill="#159a90" opacity="0.11" transform="rotate(0 314.8 1223.0)"/>
<ellipse cx="249.6" cy="1258.5" rx="6.0" ry="8.0" fill="#2aae9f" opacity="0.12" transform="rotate(0 249.6 1258.5)"/>
<ellipse cx="250.1" cy="1259.0" rx="2.7" ry="3.6" fill="#159a90" opacity="0.09" transform="rotate(0 249.6 1258.5)"/>
<ellipse cx="368.1" cy="1266.8" rx="6.0" ry="1.5" fill="#2aae9f" opacity="0.31" transform="rotate(0 368.1 1266.8)"/>
<ellipse cx="368.6" cy="1267.3" rx="2.7" ry="0.7" fill="#159a90" opacity="0.23" transform="rotate(0 368.1 1266.8)"/>
<ellipse cx="297.0" cy="1354.8" rx="5.0" ry="2.0" fill="#2aae9f" opacity="0.19" transform="rotate(0 297.0 1354.8)"/>
<ellipse cx="297.5" cy="1355.3" rx="2.2" ry="0.9" fill="#159a90" opacity="0.14" transform="rotate(0 297.0 1354.8)"/>
<ellipse cx="450.5" cy="1201.0" rx="2.0" ry="2.0" fill="#2aae9f" opacity="0.50" transform="rotate(0 450.5 1201.0)"/>
<ellipse cx="451.0" cy="1201.5" rx="0.9" ry="0.9" fill="#159a90" opacity="0.36" transform="rotate(0 450.5 1201.0)"/>
<ellipse cx="425.9" cy="1183.9" rx="2.0" ry="2.0" fill="#2aae9f" opacity="0.31" transform="rotate(0 425.9 1183.9)"/>
<ellipse cx="426.4" cy="1184.4" rx="0.9" ry="0.9" fill="#159a90" opacity="0.23" transform="rotate(0 425.9 1183.9)"/>
<ellipse cx="477.8" cy="1260.0" rx="4.0" ry="6.0" fill="#2aae9f" opacity="0.37" transform="rotate(0 477.8 1260.0)"/>
<ellipse cx="478.3" cy="1260.5" rx="1.8" ry="2.7" fill="#159a90" opacity="0.27" transform="rotate(0 477.8 1260.0)"/>
<ellipse cx="563.7" cy="1260.0" rx="2.5" ry="7.0" fill="#2aae9f" opacity="0.28" transform="rotate(20 563.7 1260.0)"/>
<ellipse cx="564.2" cy="1260.5" rx="1.1" ry="3.1" fill="#159a90" opacity="0.20" transform="rotate(20 563.7 1260.0)"/>
<ellipse cx="581.5" cy="1206.7" rx="3.5" ry="6.0" fill="#2aae9f" opacity="0.25" transform="rotate(0 581.5 1206.7)"/>
<ellipse cx="582.0" cy="1207.2" rx="1.6" ry="2.7" fill="#159a90" opacity="0.18" transform="rotate(0 581.5 1206.7)"/>
<ellipse cx="615.6" cy="1211.1" rx="3.0" ry="4.0" fill="#2aae9f" opacity="0.22" transform="rotate(0 615.6 1211.1)"/>
<ellipse cx="616.1" cy="1211.6" rx="1.4" ry="1.8" fill="#159a90" opacity="0.16" transform="rotate(0 615.6 1211.1)"/>
<ellipse cx="665.9" cy="1237.8" rx="5.0" ry="4.0" fill="#2aae9f" opacity="0.25" transform="rotate(0 665.9 1237.8)"/>
<ellipse cx="666.4" cy="1238.3" rx="2.2" ry="1.8" fill="#159a90" opacity="0.18" transform="rotate(0 665.9 1237.8)"/>
<ellipse cx="535.6" cy="1245.2" rx="3.0" ry="7.0" fill="#2aae9f" opacity="0.22" transform="rotate(-40 535.6 1245.2)"/>
<ellipse cx="536.1" cy="1245.7" rx="1.4" ry="3.1" fill="#159a90" opacity="0.16" transform="rotate(-40 535.6 1245.2)"/>
<ellipse cx="466.5" cy="1314.8" rx="2.0" ry="2.0" fill="#2aae9f" opacity="0.43" transform="rotate(0 466.5 1314.8)"/>
<ellipse cx="467.0" cy="1315.3" rx="0.9" ry="0.9" fill="#159a90" opacity="0.32" transform="rotate(0 466.5 1314.8)"/>
<ellipse cx="585.9" cy="1324.3" rx="3.5" ry="3.0" fill="#2aae9f" opacity="0.22" transform="rotate(0 585.9 1324.3)"/>
<ellipse cx="586.4" cy="1324.8" rx="1.6" ry="1.4" fill="#159a90" opacity="0.16" transform="rotate(0 585.9 1324.3)"/>
<ellipse cx="461.5" cy="1351.9" rx="3.0" ry="5.0" fill="#2aae9f" opacity="0.31" transform="rotate(0 461.5 1351.9)"/>
<ellipse cx="462.0" cy="1352.4" rx="1.4" ry="2.2" fill="#159a90" opacity="0.23" transform="rotate(0 461.5 1351.9)"/>
<ellipse cx="394.8" cy="1172.0" rx="4.0" ry="4.0" fill="#2aae9f" opacity="0.19" transform="rotate(0 394.8 1172.0)"/>
<ellipse cx="395.3" cy="1172.5" rx="1.8" ry="1.8" fill="#159a90" opacity="0.14" transform="rotate(0 394.8 1172.0)"/>
<ellipse cx="667.4" cy="1172.6" rx="3.0" ry="5.0" fill="#2aae9f" opacity="0.19" transform="rotate(0 667.4 1172.6)"/>
<ellipse cx="667.9" cy="1173.1" rx="1.4" ry="2.2" fill="#159a90" opacity="0.14" transform="rotate(0 667.4 1172.6)"/>
<ellipse cx="423.9" cy="1227.4" rx="2.5" ry="5.0" fill="#2aae9f" opacity="0.19" transform="rotate(-30 423.9 1227.4)"/>
<ellipse cx="424.4" cy="1227.9" rx="1.1" ry="2.2" fill="#159a90" opacity="0.14" transform="rotate(-30 423.9 1227.4)"/>
</g>
</g>
<g id="pf">
<text x="775.5" y="646.0" stroke="#000" stroke-width="0.8" stroke-linejoin="round" font-size="32.5" font-weight="bold">f</text>
<rect x="934.3" y="884.2" width="24.4" height="109.0" fill="#ff9500" stroke="#000" stroke-width="2.0" />
<rect x="979.5" y="822.8" width="24.4" height="170.4" fill="#ff40ff" stroke="#000" stroke-width="2.0" />
<rect x="1024.9" y="847.5" width="24.4" height="145.7" fill="#ff2a00" stroke="#000" stroke-width="2.0" />
<rect x="1100.9" y="866.2" width="24.4" height="127.0" fill="#ff9500" stroke="#000" stroke-width="2.0" />
<rect x="1146.4" y="822.5" width="24.4" height="170.7" fill="#ff40ff" stroke="#000" stroke-width="2.0" />
<rect x="1191.6" y="831.3" width="24.4" height="161.9" fill="#ff2a00" stroke="#000" stroke-width="2.0" />
<path d="M946.2 834.5 V928.7 M938.5 834.5 H954.0 M938.5 928.7 H954.0" stroke="#000" stroke-width="1.3" fill="none" />
<path d="M991.2 765.0 V873.0 M991.2 765.0 H991.2 M991.2 873.0 H991.2" stroke="#000" stroke-width="1.3" fill="none" />
<path d="M1037.0 786.7 V903.0 M1029.2 786.7 H1044.8 M1029.2 903.0 H1044.8" stroke="#000" stroke-width="1.3" fill="none" />
<path d="M1112.5 839.7 V887.5 M1112.5 839.7 H1112.5 M1112.5 887.5 H1112.5" stroke="#000" stroke-width="1.3" fill="none" />
<path d="M1158.3 793.8 V851.0 M1150.5 793.8 H1166.0 M1150.5 851.0 H1166.0" stroke="#000" stroke-width="1.3" fill="none" />
<path d="M1203.3 805.8 V857.0 M1195.5 805.8 H1211.0 M1195.5 857.0 H1211.0" stroke="#000" stroke-width="1.3" fill="none" />
<circle cx="946.2" cy="841.7" r="5.8" fill="#ff9500" stroke="#000" stroke-width="2.2" />
<circle cx="946.2" cy="868.8" r="5.8" fill="#ff9500" stroke="#000" stroke-width="2.2" />
<circle cx="946.2" cy="934.2" r="5.8" fill="#ff9500" stroke="#000" stroke-width="2.2" />
<circle cx="1112.5" cy="839.7" r="5.8" fill="#ff9500" stroke="#000" stroke-width="2.2" />
<circle cx="1112.5" cy="863.7" r="5.8" fill="#ff9500" stroke="#000" stroke-width="2.2" />
<circle cx="1112.5" cy="887.5" r="5.8" fill="#ff9500" stroke="#000" stroke-width="2.2" />
<rect x="985.0" y="758.8" width="12.4" height="12.4" fill="#ff40ff" stroke="#000" stroke-width="2.2" />
<rect x="985.0" y="818.8" width="12.4" height="12.4" fill="#ff40ff" stroke="#000" stroke-width="2.2" />
<rect x="985.0" y="865.5" width="12.4" height="12.4" fill="#ff40ff" stroke="#000" stroke-width="2.2" />
<rect x="1143.3" y="798.5" width="12.4" height="12.4" fill="#ff40ff" stroke="#000" stroke-width="2.2" />
<rect x="1161.0" y="799.1" width="12.4" height="12.4" fill="#ff40ff" stroke="#000" stroke-width="2.2" />
<rect x="1152.1" y="843.8" width="12.4" height="12.4" fill="#ff40ff" stroke="#000" stroke-width="2.2" />
<path d="M1030.8 809.5 L1043.2 809.5 L1037.0 798.0 Z" fill="#ff2a00" stroke="#000" stroke-width="2.2" stroke-linejoin="round"/>
<path d="M1030.8 892.8 L1043.2 892.8 L1037.0 881.2 Z" fill="#ff2a00" stroke="#000" stroke-width="2.2" stroke-linejoin="round"/>
<path d="M1197.0 809.5 L1209.5 809.5 L1203.3 798.0 Z" fill="#ff2a00" stroke="#000" stroke-width="2.2" stroke-linejoin="round"/>
<path d="M1197.0 840.2 L1209.5 840.2 L1203.3 828.8 Z" fill="#ff2a00" stroke="#000" stroke-width="2.2" stroke-linejoin="round"/>
<path d="M1197.0 855.2 L1209.5 855.2 L1203.3 843.8 Z" fill="#ff2a00" stroke="#000" stroke-width="2.2" stroke-linejoin="round"/>
<path d="M916.2 675.2 V993.2" stroke="#000" stroke-width="1.3" fill="none" />
<path d="M901.5 993.2 H1233.8" stroke="#000" stroke-width="1.3" fill="none" />
<line x1="901.5" y1="913.7" x2="916.2" y2="913.7" stroke="#000" stroke-width="1.3" />
<line x1="901.5" y1="834.2" x2="916.2" y2="834.2" stroke="#000" stroke-width="1.3" />
<line x1="901.5" y1="754.7" x2="916.2" y2="754.7" stroke="#000" stroke-width="1.3" />
<line x1="901.5" y1="675.2" x2="916.2" y2="675.2" stroke="#000" stroke-width="1.3" />
<text x="888.5" y="1002.8" text-anchor="end">0</text>
<text x="888.5" y="923.3" text-anchor="end">5</text>
<text x="888.5" y="843.8" text-anchor="end">10</text>
<text x="888.5" y="764.3" text-anchor="end">15</text>
<text x="888.5" y="684.8" text-anchor="end">20</text>
<line x1="1077.0" y1="684.0" x2="1077.0" y2="994.0" stroke="#000" stroke-width="4.2" stroke-linecap="round" stroke-dasharray="0 12.35"/>
<text x="944.0" y="1028.0" textLength="92.1" lengthAdjust="spacingAndGlyphs">Human</text>
<text x="1119.7" y="1028.0" textLength="80.5" lengthAdjust="spacingAndGlyphs">Whale</text>
<text  text-anchor="middle" textLength="325.4" lengthAdjust="spacingAndGlyphs" transform="translate(830.9 834.4) rotate(-90)">Apoptosis + necrosis (%)</text>
<circle cx="1297.9" cy="712.1" r="5.8" fill="#ff9500" stroke="#000" stroke-width="2.2" />
<text x="1322.9" y="721.5" textLength="94.9" lengthAdjust="spacingAndGlyphs">Control</text>
<rect x="1291.7" y="751.1" width="12.4" height="12.4" fill="#ff40ff" stroke="#000" stroke-width="2.2" />
<text x="1322.9" y="764.3" textLength="74.3" lengthAdjust="spacingAndGlyphs">10 Gy</text>
<path d="M1291.7 807.8 L1304.2 807.8 L1297.9 796.2 Z" fill="#ff2a00" stroke="#000" stroke-width="2.2" stroke-linejoin="round"/>
<text x="1322.9" y="809.7" textLength="74.3" lengthAdjust="spacingAndGlyphs">20 Gy</text>
</g>
<g id="pg">
<text x="776.0" y="1121.5" stroke="#000" stroke-width="0.8" stroke-linejoin="round" font-size="32.5" font-weight="bold">g</text>
<circle cx="917.8" cy="1470.9" r="2.1" fill="#000" stroke="none" stroke-width="0" />
<circle cx="926.6" cy="1462.1" r="2.1" fill="#000" stroke="none" stroke-width="0" />
<circle cx="935.4" cy="1453.4" r="2.1" fill="#000" stroke="none" stroke-width="0" />
<circle cx="944.2" cy="1444.6" r="2.1" fill="#000" stroke="none" stroke-width="0" />
<circle cx="953.0" cy="1435.9" r="2.1" fill="#000" stroke="none" stroke-width="0" />
<circle cx="961.7" cy="1427.1" r="2.1" fill="#000" stroke="none" stroke-width="0" />
<circle cx="970.5" cy="1418.4" r="2.1" fill="#000" stroke="none" stroke-width="0" />
<circle cx="979.3" cy="1409.6" r="2.1" fill="#000" stroke="none" stroke-width="0" />
<circle cx="988.1" cy="1400.8" r="2.1" fill="#000" stroke="none" stroke-width="0" />
<circle cx="996.9" cy="1392.1" r="2.1" fill="#000" stroke="none" stroke-width="0" />
<circle cx="1005.7" cy="1383.3" r="2.1" fill="#000" stroke="none" stroke-width="0" />
<circle cx="1014.5" cy="1374.6" r="2.1" fill="#000" stroke="none" stroke-width="0" />
<circle cx="1023.3" cy="1365.8" r="2.1" fill="#000" stroke="none" stroke-width="0" />
<circle cx="1032.1" cy="1357.0" r="2.1" fill="#000" stroke="none" stroke-width="0" />
<circle cx="1040.8" cy="1348.3" r="2.1" fill="#000" stroke="none" stroke-width="0" />
<circle cx="1049.6" cy="1339.5" r="2.1" fill="#000" stroke="none" stroke-width="0" />
<circle cx="1058.4" cy="1330.8" r="2.1" fill="#000" stroke="none" stroke-width="0" />
<circle cx="1067.2" cy="1322.0" r="2.1" fill="#000" stroke="none" stroke-width="0" />
<circle cx="1076.0" cy="1313.2" r="2.1" fill="#000" stroke="none" stroke-width="0" />
<circle cx="1084.8" cy="1304.5" r="2.1" fill="#000" stroke="none" stroke-width="0" />
<circle cx="1093.6" cy="1295.7" r="2.1" fill="#000" stroke="none" stroke-width="0" />
<circle cx="1102.4" cy="1287.0" r="2.1" fill="#000" stroke="none" stroke-width="0" />
<circle cx="1111.2" cy="1278.2" r="2.1" fill="#000" stroke="none" stroke-width="0" />
<circle cx="1119.9" cy="1269.5" r="2.1" fill="#000" stroke="none" stroke-width="0" />
<circle cx="1128.7" cy="1260.7" r="2.1" fill="#000" stroke="none" stroke-width="0" />
<circle cx="1137.5" cy="1251.9" r="2.1" fill="#000" stroke="none" stroke-width="0" />
<circle cx="1146.3" cy="1243.2" r="2.1" fill="#000" stroke="none" stroke-width="0" />
<circle cx="1155.1" cy="1234.4" r="2.1" fill="#000" stroke="none" stroke-width="0" />
<circle cx="1163.9" cy="1225.7" r="2.1" fill="#000" stroke="none" stroke-width="0" />
<circle cx="1172.7" cy="1216.9" r="2.1" fill="#000" stroke="none" stroke-width="0" />
<circle cx="1181.5" cy="1208.1" r="2.1" fill="#000" stroke="none" stroke-width="0" />
<circle cx="1190.3" cy="1199.4" r="2.1" fill="#000" stroke="none" stroke-width="0" />
<circle cx="1199.0" cy="1190.6" r="2.1" fill="#000" stroke="none" stroke-width="0" />
<circle cx="1207.8" cy="1181.9" r="2.1" fill="#000" stroke="none" stroke-width="0" />
<circle cx="1216.6" cy="1173.1" r="2.1" fill="#000" stroke="none" stroke-width="0" />
<circle cx="1225.4" cy="1164.4" r="2.1" fill="#000" stroke="none" stroke-width="0" />
<circle cx="1234.2" cy="1155.6" r="2.1" fill="#000" stroke="none" stroke-width="0" />
<circle cx="1080.0" cy="1259.5" r="6.3" fill="#ff2a00" stroke="none" stroke-width="0" />
<circle cx="1103.3" cy="1277.5" r="6.3" fill="#ff2a00" stroke="none" stroke-width="0" />
<circle cx="1048.8" cy="1293.3" r="6.3" fill="#ff2a00" stroke="none" stroke-width="0" />
<circle cx="1057.5" cy="1295.3" r="6.3" fill="#ff2a00" stroke="none" stroke-width="0" />
<circle cx="1072.5" cy="1289.7" r="6.3" fill="#ff2a00" stroke="none" stroke-width="0" />
<circle cx="1079.2" cy="1290.0" r="6.3" fill="#ff2a00" stroke="none" stroke-width="0" />
<circle cx="1112.0" cy="1304.2" r="6.3" fill="#ff2a00" stroke="none" stroke-width="0" />
<circle cx="1175.0" cy="1308.3" r="6.3" fill="#ff2a00" stroke="none" stroke-width="0" />
<circle cx="1213.3" cy="1301.3" r="6.3" fill="#ff2a00" stroke="none" stroke-width="0" />
<circle cx="1230.8" cy="1314.5" r="6.3" fill="#ff2a00" stroke="none" stroke-width="0" />
<circle cx="1114.5" cy="1321.7" r="6.3" fill="#ff2a00" stroke="none" stroke-width="0" />
<circle cx="1061.3" cy="1318.3" r="6.3" fill="#ff2a00" stroke="none" stroke-width="0" />
<circle cx="1027.5" cy="1326.3" r="6.3" fill="#ff2a00" stroke="none" stroke-width="0" />
<circle cx="1045.8" cy="1325.0" r="6.3" fill="#ff2a00" stroke="none" stroke-width="0" />
<circle cx="1056.7" cy="1330.8" r="6.3" fill="#ff2a00" stroke="none" stroke-width="0" />
<circle cx="1012.0" cy="1339.5" r="6.3" fill="#ff2a00" stroke="none" stroke-width="0" />
<circle cx="1016.7" cy="1345.8" r="6.3" fill="#ff2a00" stroke="none" stroke-width="0" />
<circle cx="1041.7" cy="1335.0" r="6.3" fill="#ff2a00" stroke="none" stroke-width="0" />
<circle cx="1075.0" cy="1336.7" r="6.3" fill="#ff2a00" stroke="none" stroke-width="0" />
<circle cx="1008.3" cy="1363.3" r="6.3" fill="#ff2a00" stroke="none" stroke-width="0" />
<circle cx="1034.2" cy="1359.2" r="6.3" fill="#ff2a00" stroke="none" stroke-width="0" />
<circle cx="1040.8" cy="1374.2" r="6.3" fill="#ff2a00" stroke="none" stroke-width="0" />
<circle cx="1085.0" cy="1353.3" r="6.3" fill="#ff2a00" stroke="none" stroke-width="0" />
<circle cx="1089.2" cy="1363.3" r="6.3" fill="#ff2a00" stroke="none" stroke-width="0" />
<circle cx="1103.3" cy="1379.2" r="6.3" fill="#ff2a00" stroke="none" stroke-width="0" />
<circle cx="1130.8" cy="1365.0" r="6.3" fill="#ff2a00" stroke="none" stroke-width="0" />
<circle cx="972.5" cy="1387.5" r="6.3" fill="#ff2a00" stroke="none" stroke-width="0" />
<circle cx="1039.2" cy="1399.2" r="6.3" fill="#ff2a00" stroke="none" stroke-width="0" />
<circle cx="925.8" cy="1442.2" r="6.3" fill="#ff2a00" stroke="none" stroke-width="0" />
<circle cx="1030.0" cy="1378.3" r="6.3" fill="#ff2a00" stroke="none" stroke-width="0" />
<circle cx="1083.3" cy="1308.3" r="6.3" fill="#ff2a00" stroke="none" stroke-width="0" />
<circle cx="1050.0" cy="1303.3" r="6.3" fill="#ff2a00" stroke="none" stroke-width="0" />
<circle cx="1095.0" cy="1267.0" r="6.3" fill="#0f3ff0" stroke="none" stroke-width="0" />
<circle cx="1105.8" cy="1283.7" r="6.3" fill="#0f3ff0" stroke="none" stroke-width="0" />
<circle cx="1087.8" cy="1286.7" r="6.3" fill="#0f3ff0" stroke="none" stroke-width="0" />
<circle cx="1076.7" cy="1293.3" r="6.3" fill="#0f3ff0" stroke="none" stroke-width="0" />
<circle cx="1070.8" cy="1300.0" r="6.3" fill="#0f3ff0" stroke="none" stroke-width="0" />
<circle cx="1047.0" cy="1300.3" r="6.3" fill="#0f3ff0" stroke="none" stroke-width="0" />
<circle cx="1030.5" cy="1305.3" r="6.3" fill="#0f3ff0" stroke="none" stroke-width="0" />
<circle cx="1055.3" cy="1311.7" r="6.3" fill="#0f3ff0" stroke="none" stroke-width="0" />
<circle cx="1084.2" cy="1308.3" r="6.3" fill="#0f3ff0" stroke="none" stroke-width="0" />
<circle cx="1086.7" cy="1314.2" r="6.3" fill="#0f3ff0" stroke="none" stroke-width="0" />
<circle cx="1106.2" cy="1312.5" r="6.3" fill="#0f3ff0" stroke="none" stroke-width="0" />
<circle cx="1175.8" cy="1314.2" r="6.3" fill="#0f3ff0" stroke="none" stroke-width="0" />
<circle cx="1205.5" cy="1311.2" r="6.3" fill="#0f3ff0" stroke="none" stroke-width="0" />
<circle cx="1233.0" cy="1321.3" r="6.3" fill="#0f3ff0" stroke="none" stroke-width="0" />
<circle cx="1105.0" cy="1324.2" r="6.3" fill="#0f3ff0" stroke="none" stroke-width="0" />
<circle cx="1073.3" cy="1322.5" r="6.3" fill="#0f3ff0" stroke="none" stroke-width="0" />
<circle cx="1081.7" cy="1326.7" r="6.3" fill="#0f3ff0" stroke="none" stroke-width="0" />
<circle cx="1030.8" cy="1331.7" r="6.3" fill="#0f3ff0" stroke="none" stroke-width="0" />
<circle cx="1038.3" cy="1338.3" r="6.3" fill="#0f3ff0" stroke="none" stroke-width="0" />
<circle cx="1057.5" cy="1334.2" r="6.3" fill="#0f3ff0" stroke="none" stroke-width="0" />
<circle cx="1066.7" cy="1335.0" r="6.3" fill="#0f3ff0" stroke="none" stroke-width="0" />
<circle cx="1071.7" cy="1340.8" r="6.3" fill="#0f3ff0" stroke="none" stroke-width="0" />
<circle cx="1005.3" cy="1343.3" r="6.3" fill="#0f3ff0" stroke="none" stroke-width="0" />
<circle cx="1027.0" cy="1344.7" r="6.3" fill="#0f3ff0" stroke="none" stroke-width="0" />
<circle cx="1041.7" cy="1346.7" r="6.3" fill="#0f3ff0" stroke="none" stroke-width="0" />
<circle cx="1048.3" cy="1350.8" r="6.3" fill="#0f3ff0" stroke="none" stroke-width="0" />
<circle cx="1058.3" cy="1347.5" r="6.3" fill="#0f3ff0" stroke="none" stroke-width="0" />
<circle cx="1082.8" cy="1354.5" r="6.3" fill="#0f3ff0" stroke="none" stroke-width="0" />
<circle cx="1092.0" cy="1361.7" r="6.3" fill="#0f3ff0" stroke="none" stroke-width="0" />
<circle cx="1139.7" cy="1361.7" r="6.3" fill="#0f3ff0" stroke="none" stroke-width="0" />
<circle cx="1017.2" cy="1360.0" r="6.3" fill="#0f3ff0" stroke="none" stroke-width="0" />
<circle cx="1040.0" cy="1358.3" r="6.3" fill="#0f3ff0" stroke="none" stroke-width="0" />
<circle cx="1044.7" cy="1368.7" r="6.3" fill="#0f3ff0" stroke="none" stroke-width="0" />
<circle cx="1026.7" cy="1377.0" r="6.3" fill="#0f3ff0" stroke="none" stroke-width="0" />
<circle cx="1033.3" cy="1388.0" r="6.3" fill="#0f3ff0" stroke="none" stroke-width="0" />
<circle cx="1088.7" cy="1382.5" r="6.3" fill="#0f3ff0" stroke="none" stroke-width="0" />
<circle cx="1043.3" cy="1399.5" r="6.3" fill="#0f3ff0" stroke="none" stroke-width="0" />
<circle cx="947.5" cy="1445.0" r="6.3" fill="#0f3ff0" stroke="none" stroke-width="0" />
<circle cx="917.8" cy="1470.9" r="2.1" fill="#000" stroke="none" stroke-width="0" />
<circle cx="926.6" cy="1462.1" r="2.1" fill="#000" stroke="none" stroke-width="0" />
<circle cx="935.4" cy="1453.4" r="2.1" fill="#000" stroke="none" stroke-width="0" />
<circle cx="944.2" cy="1444.6" r="2.1" fill="#000" stroke="none" stroke-width="0" />
<circle cx="953.0" cy="1435.9" r="2.1" fill="#000" stroke="none" stroke-width="0" />
<circle cx="961.7" cy="1427.1" r="2.1" fill="#000" stroke="none" stroke-width="0" />
<circle cx="970.5" cy="1418.4" r="2.1" fill="#000" stroke="none" stroke-width="0" />
<circle cx="979.3" cy="1409.6" r="2.1" fill="#000" stroke="none" stroke-width="0" />
<circle cx="988.1" cy="1400.8" r="2.1" fill="#000" stroke="none" stroke-width="0" />
<circle cx="996.9" cy="1392.1" r="2.1" fill="#000" stroke="none" stroke-width="0" />
<circle cx="1005.7" cy="1383.3" r="2.1" fill="#000" stroke="none" stroke-width="0" />
<circle cx="1014.5" cy="1374.6" r="2.1" fill="#000" stroke="none" stroke-width="0" />
<circle cx="1023.3" cy="1365.8" r="2.1" fill="#000" stroke="none" stroke-width="0" />
<circle cx="1032.1" cy="1357.0" r="2.1" fill="#000" stroke="none" stroke-width="0" />
<circle cx="1040.8" cy="1348.3" r="2.1" fill="#000" stroke="none" stroke-width="0" />
<circle cx="1049.6" cy="1339.5" r="2.1" fill="#000" stroke="none" stroke-width="0" />
<circle cx="1058.4" cy="1330.8" r="2.1" fill="#000" stroke="none" stroke-width="0" />
<circle cx="1067.2" cy="1322.0" r="2.1" fill="#000" stroke="none" stroke-width="0" />
<circle cx="1076.0" cy="1313.2" r="2.1" fill="#000" stroke="none" stroke-width="0" />
<circle cx="1084.8" cy="1304.5" r="2.1" fill="#000" stroke="none" stroke-width="0" />
<circle cx="1093.6" cy="1295.7" r="2.1" fill="#000" stroke="none" stroke-width="0" />
<circle cx="1102.4" cy="1287.0" r="2.1" fill="#000" stroke="none" stroke-width="0" />
<circle cx="1111.2" cy="1278.2" r="2.1" fill="#000" stroke="none" stroke-width="0" />
<circle cx="1119.9" cy="1269.5" r="2.1" fill="#000" stroke="none" stroke-width="0" />
<circle cx="1128.7" cy="1260.7" r="2.1" fill="#000" stroke="none" stroke-width="0" />
<circle cx="1137.5" cy="1251.9" r="2.1" fill="#000" stroke="none" stroke-width="0" />
<circle cx="1146.3" cy="1243.2" r="2.1" fill="#000" stroke="none" stroke-width="0" />
<circle cx="1155.1" cy="1234.4" r="2.1" fill="#000" stroke="none" stroke-width="0" />
<circle cx="1163.9" cy="1225.7" r="2.1" fill="#000" stroke="none" stroke-width="0" />
<circle cx="1172.7" cy="1216.9" r="2.1" fill="#000" stroke="none" stroke-width="0" />
<circle cx="1181.5" cy="1208.1" r="2.1" fill="#000" stroke="none" stroke-width="0" />
<circle cx="1190.3" cy="1199.4" r="2.1" fill="#000" stroke="none" stroke-width="0" />
<circle cx="1199.0" cy="1190.6" r="2.1" fill="#000" stroke="none" stroke-width="0" />
<circle cx="1207.8" cy="1181.9" r="2.1" fill="#000" stroke="none" stroke-width="0" />
<circle cx="1216.6" cy="1173.1" r="2.1" fill="#000" stroke="none" stroke-width="0" />
<circle cx="1225.4" cy="1164.4" r="2.1" fill="#000" stroke="none" stroke-width="0" />
<circle cx="1234.2" cy="1155.6" r="2.1" fill="#000" stroke="none" stroke-width="0" />
<path d="M916.2 1155.2 V1487.3" stroke="#000" stroke-width="1.3" fill="none" />
<path d="M900.8 1473.3 H1234.0" stroke="#000" stroke-width="1.3" fill="none" />
<line x1="900.8" y1="1409.5" x2="916.2" y2="1409.5" stroke="#000" stroke-width="1.3" />
<line x1="979.5" y1="1473.3" x2="979.5" y2="1487.3" stroke="#000" stroke-width="1.3" />
<line x1="900.8" y1="1345.9" x2="916.2" y2="1345.9" stroke="#000" stroke-width="1.3" />
<line x1="1043.1" y1="1473.3" x2="1043.1" y2="1487.3" stroke="#000" stroke-width="1.3" />
<line x1="900.8" y1="1282.3" x2="916.2" y2="1282.3" stroke="#000" stroke-width="1.3" />
<line x1="1106.7" y1="1473.3" x2="1106.7" y2="1487.3" stroke="#000" stroke-width="1.3" />
<line x1="900.8" y1="1218.8" x2="916.2" y2="1218.8" stroke="#000" stroke-width="1.3" />
<line x1="1170.2" y1="1473.3" x2="1170.2" y2="1487.3" stroke="#000" stroke-width="1.3" />
<line x1="900.8" y1="1155.2" x2="916.2" y2="1155.2" stroke="#000" stroke-width="1.3" />
<line x1="1233.8" y1="1473.3" x2="1233.8" y2="1487.3" stroke="#000" stroke-width="1.3" />
<text x="896.2" y="1482.6" text-anchor="end">−4</text>
<text x="912.0" y="1519.5" text-anchor="middle">−4</text>
<text x="896.2" y="1419.1" text-anchor="end">-2</text>
<text x="975.5" y="1519.5" text-anchor="middle">−2</text>
<text x="896.2" y="1355.5" text-anchor="end">0</text>
<text x="1043.1" y="1519.5" text-anchor="middle">0</text>
<text x="896.2" y="1291.9" text-anchor="end">2</text>
<text x="1106.7" y="1519.5" text-anchor="middle">2</text>
<text x="896.2" y="1228.4" text-anchor="end">4</text>
<text x="1170.2" y="1519.5" text-anchor="middle">4</text>
<text x="896.2" y="1164.8" text-anchor="end">6</text>
<text x="1233.8" y="1519.5" text-anchor="middle">6</text>
<text x="1075.3" y="1562.3" text-anchor="middle" textLength="151.0" lengthAdjust="spacingAndGlyphs">Human log<tspan font-size="19" dy="7">2</tspan></text>
<text x="1075.0" y="1596.0" text-anchor="middle" textLength="244.3" lengthAdjust="spacingAndGlyphs">(irradiation/control)</text>
<text  text-anchor="middle" textLength="140.0" lengthAdjust="spacingAndGlyphs" transform="translate(801.0 1314.0) rotate(-90)">Whale log<tspan font-size="19" dy="7">2</tspan></text>
<text  text-anchor="middle" textLength="243.2" lengthAdjust="spacingAndGlyphs" transform="translate(834.7 1313.5) rotate(-90)">(irradiation/control)</text>
<line x1="1122.0" y1="1133.9" x2="1170.7" y2="1285.0" stroke="#000" stroke-width="2.4" marker-end="url(#arr)"/>
<line x1="1326.4" y1="1168.6" x2="1221.4" y2="1286.7" stroke="#000" stroke-width="2.4" marker-end="url(#arr)"/>
<line x1="1335.0" y1="1371.2" x2="1246.4" y2="1330.2" stroke="#000" stroke-width="2.4" marker-end="url(#arr)"/>
<line x1="1208.2" y1="1424.7" x2="1145.7" y2="1368.4" stroke="#000" stroke-width="2.4" marker-end="url(#arr)"/>
<text x="1069.2" y="1122.4" font-style="italic" textLength="100.1" lengthAdjust="spacingAndGlyphs">IGFBP2</text>
<text x="1278.8" y="1160.6" font-style="italic" textLength="101.4" lengthAdjust="spacingAndGlyphs">IGFBP5</text>
<text x="1341.0" y="1388.5" font-style="italic" textLength="39.9" lengthAdjust="spacingAndGlyphs">IL6</text>
<text x="1134.6" y="1456.3" font-style="italic" textLength="163.3" lengthAdjust="spacingAndGlyphs">TNFRSR11B</text>
<circle cx="960.5" cy="1639.4" r="6.3" fill="#0f3ff0" stroke="none" stroke-width="0" />
<text x="980.6" y="1648.1" textLength="75.4" lengthAdjust="spacingAndGlyphs">10 Gy</text>
<circle cx="1108.5" cy="1639.4" r="6.3" fill="#ff2a00" stroke="none" stroke-width="0" />
<text x="1127.3" y="1648.1" textLength="76.4" lengthAdjust="spacingAndGlyphs">20 Gy</text>
</g>
<g id="ph">
<text x="1544.8" y="646.3" stroke="#000" stroke-width="0.8" stroke-linejoin="round" font-size="32.5" font-weight="bold">h</text>
<rect x="1688.6" y="761.3" width="41.1" height="218.7" fill="#808080" stroke="#000" stroke-width="2.3" />
<rect x="1761.6" y="864.3" width="40.8" height="115.7" fill="#b08040" stroke="#000" stroke-width="2.3" />
<rect x="1834.7" y="921.8" width="40.7" height="58.2" fill="#00ee00" stroke="#000" stroke-width="2.3" />
<rect x="1909.5" y="941.9" width="41.1" height="35.4" fill="#0f3ff0" stroke="none" stroke-width="0" />
<path d="M1909.5 977.3 V941.9 H1950.6 V977.3" stroke="#000" stroke-width="2.3" fill="none" />
<circle cx="1709.0" cy="679.1" r="6.2" fill="#000" stroke="none" stroke-width="0" />
<circle cx="1709.0" cy="750.6" r="6.2" fill="#000" stroke="none" stroke-width="0" />
<circle cx="1709.0" cy="843.8" r="6.2" fill="#000" stroke="none" stroke-width="0" />
<circle cx="1781.7" cy="801.0" r="6.2" fill="#000" stroke="none" stroke-width="0" />
<circle cx="1781.7" cy="920.1" r="6.2" fill="#000" stroke="none" stroke-width="0" />
<circle cx="1855.1" cy="828.8" r="6.2" fill="#000" stroke="none" stroke-width="0" />
<circle cx="1855.1" cy="954.4" r="6.2" fill="#000" stroke="none" stroke-width="0" />
<circle cx="1855.1" cy="971.2" r="6.2" fill="#000" stroke="none" stroke-width="0" />
<circle cx="1927.8" cy="925.3" r="6.2" fill="#000" stroke="none" stroke-width="0" />
<circle cx="1910.1" cy="949.2" r="6.2" fill="#000" stroke="none" stroke-width="0" />
<circle cx="1946.1" cy="947.6" r="6.2" fill="#000" stroke="none" stroke-width="0" />
<path d="M1661.0 662.9 V980.0" stroke="#000" stroke-width="1.3" fill="none" />
<path d="M1645.5 980.0 H1977.6" stroke="#000" stroke-width="1.3" fill="none" />
<line x1="1645.5" y1="874.3" x2="1661.0" y2="874.3" stroke="#000" stroke-width="1.3" />
<line x1="1645.5" y1="768.6" x2="1661.0" y2="768.6" stroke="#000" stroke-width="1.3" />
<line x1="1645.5" y1="662.9" x2="1661.0" y2="662.9" stroke="#000" stroke-width="1.3" />
<text x="1632.0" y="989.6" text-anchor="end">0</text>
<text x="1632.0" y="883.9" text-anchor="end">0.1</text>
<text x="1632.0" y="778.2" text-anchor="end">0.2</text>
<text x="1632.0" y="672.5" text-anchor="end">0.3</text>
<text  text-anchor="end" textLength="86.0" lengthAdjust="spacingAndGlyphs" transform="translate(1716.5 1004.5) rotate(-45)">Mouse</text>
<text  text-anchor="end" textLength="57.0" lengthAdjust="spacingAndGlyphs" transform="translate(1789.5 1004.5) rotate(-45)">Cow</text>
<text  text-anchor="end" textLength="92.5" lengthAdjust="spacingAndGlyphs" transform="translate(1862.5 1004.5) rotate(-45)">Human</text>
<text  text-anchor="end" textLength="80.5" lengthAdjust="spacingAndGlyphs" transform="translate(1937.5 1004.5) rotate(-45)">Whale</text>
<text  text-anchor="middle" textLength="255.2" lengthAdjust="spacingAndGlyphs" transform="translate(1570.9 821.6) rotate(-90)">pp53-TA-luc/<tspan font-style="italic">Renilla</tspan></text>
</g>
<g id="pi">
<text x="1544.8" y="1121.5" stroke="#000" stroke-width="0.8" stroke-linejoin="round" font-size="32.5" font-weight="bold">i</text>
<rect x="1680.7" y="1491.0" width="20.9" height="19.8" fill="#ff9500" stroke="#000" stroke-width="2.0" />
<rect x="1726.5" y="1378.9" width="20.8" height="131.9" fill="#ff2a00" stroke="#000" stroke-width="2.0" />
<rect x="1803.5" y="1436.7" width="20.4" height="74.1" fill="#ff9500" stroke="#000" stroke-width="2.0" />
<rect x="1849.2" y="1287.4" width="20.9" height="223.4" fill="#ff2a00" stroke="#000" stroke-width="2.0" />
<rect x="1925.8" y="1483.6" width="20.6" height="27.2" fill="#ff9500" stroke="#000" stroke-width="2.0" />
<rect x="1972.0" y="1336.0" width="20.4" height="174.8" fill="#ff2a00" stroke="#000" stroke-width="2.0" />
<rect x="2048.6" y="1491.0" width="20.6" height="19.8" fill="#ff9500" stroke="#000" stroke-width="2.0" />
<rect x="2094.8" y="1322.8" width="20.4" height="188.0" fill="#ff2a00" stroke="#000" stroke-width="2.0" />
<path d="M1736.5 1304.0 V1459.7 M1728.5 1304.0 H1744.5 M1728.5 1459.7 H1744.5" stroke="#000" stroke-width="1.3" fill="none" />
<path d="M1813.3 1390.6 V1472.2 M1805.0 1390.6 H1821.5 M1805.0 1472.2 H1821.5" stroke="#000" stroke-width="1.3" fill="none" />
<path d="M1859.3 1242.3 V1323.2 M1851.3 1242.3 H1867.3 M1851.3 1323.2 H1867.3" stroke="#000" stroke-width="1.3" fill="none" />
<path d="M1982.1 1302.0 V1370.0 M1974.1 1302.0 H1990.1 M1974.1 1370.0 H1990.1" stroke="#000" stroke-width="1.3" fill="none" />
<path d="M2104.9 1263.5 V1378.0 M2104.9 1263.5 H2104.9 M2104.9 1378.0 H2104.9" stroke="#000" stroke-width="1.3" fill="none" />
<circle cx="1684.1" cy="1489.8" r="8.7" fill="#ff9500" stroke="#000" stroke-width="2.2" />
<circle cx="1690.6" cy="1470.6" r="8.7" fill="#ff9500" stroke="#000" stroke-width="2.2" />
<circle cx="1696.6" cy="1484.5" r="8.7" fill="#ff9500" stroke="#000" stroke-width="2.2" />
<circle cx="1813.3" cy="1402.4" r="8.7" fill="#ff9500" stroke="#000" stroke-width="2.2" />
<circle cx="1813.3" cy="1460.9" r="8.7" fill="#ff9500" stroke="#000" stroke-width="2.2" />
<circle cx="1936.1" cy="1468.2" r="8.7" fill="#ff9500" stroke="#000" stroke-width="2.2" />
<circle cx="1942.1" cy="1472.2" r="8.7" fill="#ff9500" stroke="#000" stroke-width="2.2" />
<circle cx="1930.6" cy="1479.0" r="8.7" fill="#ff9500" stroke="#000" stroke-width="2.2" />
<circle cx="2052.9" cy="1489.8" r="8.7" fill="#ff9500" stroke="#000" stroke-width="2.2" />
<circle cx="2064.9" cy="1485.0" r="8.7" fill="#ff9500" stroke="#000" stroke-width="2.2" />
<circle cx="2058.9" cy="1477.8" r="8.7" fill="#ff9500" stroke="#000" stroke-width="2.2" />
<rect x="1727.2" y="1307.2" width="18.6" height="18.6" fill="#ff2a00" stroke="#000" stroke-width="2.2" />
<rect x="1727.2" y="1342.1" width="18.6" height="18.6" fill="#ff2a00" stroke="#000" stroke-width="2.2" />
<rect x="1727.2" y="1441.3" width="18.6" height="18.6" fill="#ff2a00" stroke="#000" stroke-width="2.2" />
<rect x="1850.0" y="1244.1" width="18.6" height="18.6" fill="#ff2a00" stroke="#000" stroke-width="2.2" />
<rect x="1850.0" y="1302.4" width="18.6" height="18.6" fill="#ff2a00" stroke="#000" stroke-width="2.2" />
<rect x="1972.8" y="1353.6" width="18.6" height="18.6" fill="#ff2a00" stroke="#000" stroke-width="2.2" />
<rect x="1967.0" y="1297.6" width="18.6" height="18.6" fill="#ff2a00" stroke="#000" stroke-width="2.2" />
<rect x="1978.6" y="1312.7" width="18.6" height="18.6" fill="#ff2a00" stroke="#000" stroke-width="2.2" />
<rect x="2095.6" y="1254.2" width="18.6" height="18.6" fill="#ff2a00" stroke="#000" stroke-width="2.2" />
<rect x="2095.6" y="1310.1" width="18.6" height="18.6" fill="#ff2a00" stroke="#000" stroke-width="2.2" />
<rect x="2095.6" y="1359.7" width="18.6" height="18.6" fill="#ff2a00" stroke="#000" stroke-width="2.2" />
<path d="M1660.0 1193.2 V1510.8" stroke="#000" stroke-width="1.3" fill="none" />
<path d="M1645.0 1510.8 H2135.7" stroke="#000" stroke-width="1.3" fill="none" />
<line x1="1645.0" y1="1404.9" x2="1660.0" y2="1404.9" stroke="#000" stroke-width="1.3" />
<line x1="1645.0" y1="1299.1" x2="1660.0" y2="1299.1" stroke="#000" stroke-width="1.3" />
<line x1="1645.0" y1="1193.2" x2="1660.0" y2="1193.2" stroke="#000" stroke-width="1.3" />
<text x="1631.4" y="1520.4" text-anchor="end">0</text>
<text x="1631.4" y="1414.5" text-anchor="end">20</text>
<text x="1631.4" y="1308.7" text-anchor="end">40</text>
<text x="1631.4" y="1202.8" text-anchor="end">60</text>
<line x1="1773.1" y1="1199.7" x2="1773.1" y2="1510.5" stroke="#000" stroke-width="4.2" stroke-linecap="round" stroke-dasharray="0 12.4"/>
<line x1="1899.3" y1="1185.8" x2="1899.3" y2="1496.0" stroke="#000" stroke-width="4.2" stroke-linecap="round" stroke-dasharray="0 12.35"/>
<line x1="2020.4" y1="1185.8" x2="2020.4" y2="1496.0" stroke="#000" stroke-width="4.2" stroke-linecap="round" stroke-dasharray="0 12.35"/>
<path d="M1935.9 1390.4 V1181.2 H1982.8 V1240.6" stroke="#000" stroke-width="1.3" fill="none" />
<path d="M2059.4 1390.4 V1181.2 H2105.1 V1240.6" stroke="#000" stroke-width="1.3" fill="none" />
<text x="1895.0" y="1153.2" textLength="124.0" lengthAdjust="spacingAndGlyphs"><tspan font-style="italic">P</tspan> = 0.014</text>
<text x="2036.0" y="1153.2" textLength="124.0" lengthAdjust="spacingAndGlyphs"><tspan font-style="italic">P</tspan> = 0.033</text>
<text x="1669.0" y="1545.8" textLength="87.0" lengthAdjust="spacingAndGlyphs">Mouse</text>
<text x="1802.8" y="1545.8" textLength="58.1" lengthAdjust="spacingAndGlyphs">Cow</text>
<text x="1910.7" y="1545.8" textLength="92.9" lengthAdjust="spacingAndGlyphs">Human</text>
<text x="2039.4" y="1545.8" textLength="80.3" lengthAdjust="spacingAndGlyphs">Whale</text>
<text  text-anchor="middle" textLength="326.0" lengthAdjust="spacingAndGlyphs" transform="translate(1575.8 1352.0) rotate(-90)">Apoptosis + necrosis (%)</text>
<circle cx="1714.1" cy="1592.9" r="9.2" fill="#ff9500" stroke="#000" stroke-width="2.2" />
<text x="1739.0" y="1602.1" textLength="93.9" lengthAdjust="spacingAndGlyphs">Control</text>
<rect x="1871.2" y="1583.4" width="19.0" height="19.0" fill="#ff2a00" stroke="#000" stroke-width="2.2" />
<text x="1905.6" y="1602.1" textLength="140.7" lengthAdjust="spacingAndGlyphs">4 J m<tspan font-size="19" dy="-10">−2</tspan><tspan dy="10"> UV</tspan></text>
<path d="M2061 1600.2 H2046 Q2042 1600.2 2042 1604.2 V1611 Q2042 1615 2046 1615 H2057 Q2061 1615 2061 1611 V1607.6 H2052" stroke="#ababab" stroke-width="5.5" fill="none" />
<path d="M2069 1617.8 V1604.2 Q2069 1600.2 2073 1600.2 H2084 Q2088 1600.2 2088 1604.2 V1617.8" stroke="#ababab" stroke-width="5.5" fill="none" />
<path d="M2093.3 1600.2 H2118.1 M2105.4 1600.2 V1617.8" stroke="#ababab" stroke-width="5.5" fill="none" />
<rect x="2124.1" y="1597.0" width="4.0" height="20.8" fill="#cfe3a8" stroke="none" stroke-width="0" />
<rect x="2131.1" y="1601.1" width="3.9" height="16.4" fill="#b8dcf8" stroke="none" stroke-width="0" />
<rect x="2137.9" y="1604.1" width="4.1" height="13.7" fill="#f8b8b8" stroke="none" stroke-width="0" />
<text x="2038.5" y="1630.4" font-size="12.5" textLength="103.7" lengthAdjust="spacingAndGlyphs" fill="#a8a8a8">generation-nt.com</text>
</g>
</svg>
</body></html>
